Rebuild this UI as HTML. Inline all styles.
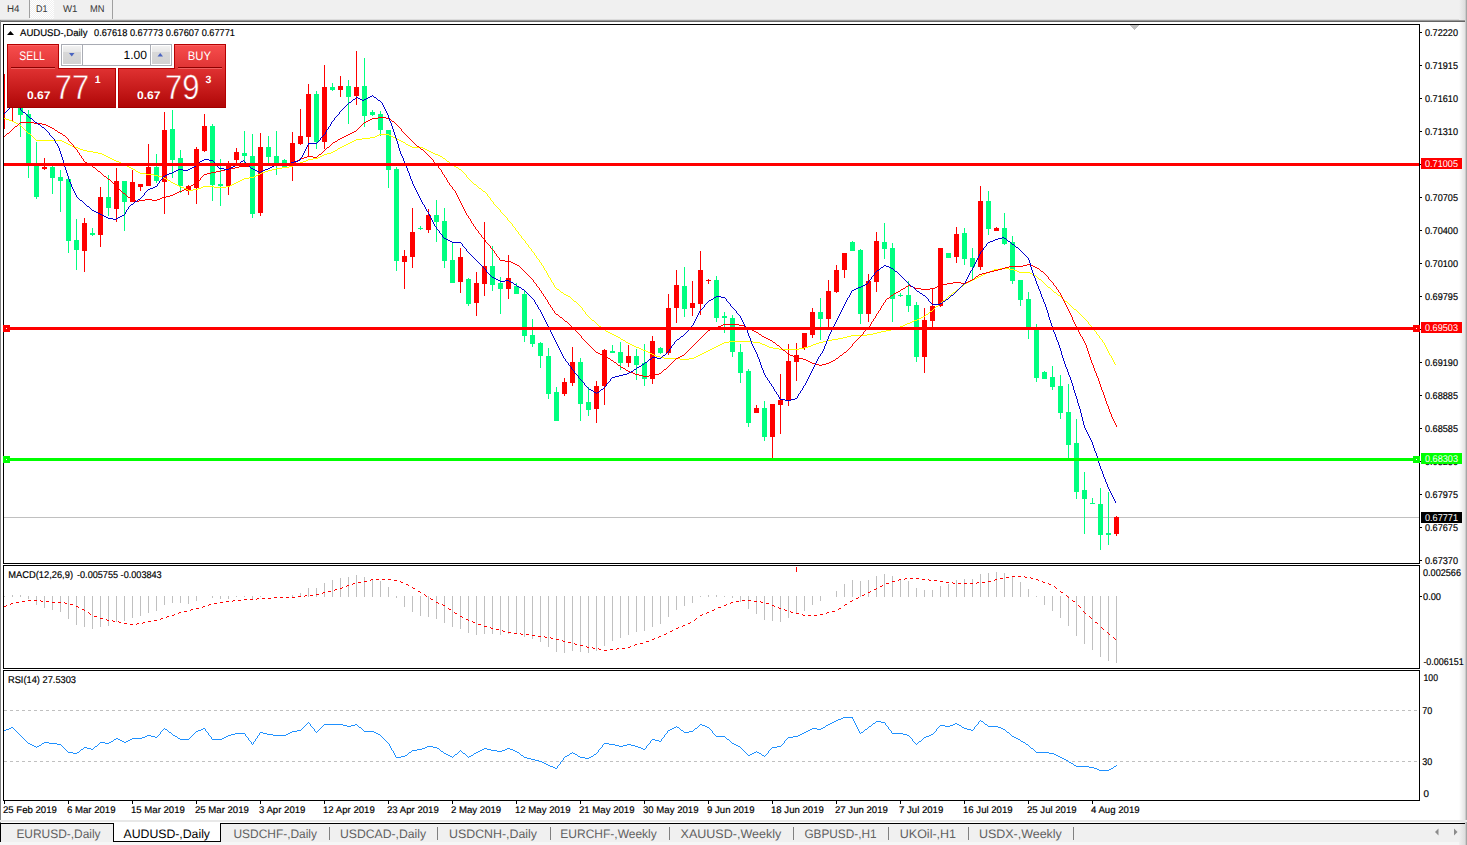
<!DOCTYPE html>
<html><head><meta charset="utf-8"><title>AUDUSD-,Daily</title>
<style>html,body{margin:0;padding:0;background:#fff}body{width:1467px;height:845px;overflow:hidden}svg{display:block}text{font-family:"Liberation Sans",sans-serif;white-space:pre;text-rendering:geometricPrecision}</style></head>
<body>
<svg width="1467" height="845" viewBox="0 0 1467 845">
<defs><linearGradient id="gs" x1="0" y1="0" x2="0" y2="1"><stop offset="0" stop-color="#f84e4e"/><stop offset="1" stop-color="#e03434"/></linearGradient><linearGradient id="gl" x1="0" y1="0" x2="0" y2="1"><stop offset="0" stop-color="#e03232"/><stop offset="0.5" stop-color="#c81c1c"/><stop offset="1" stop-color="#ae0606"/></linearGradient><linearGradient id="gb" x1="0" y1="0" x2="0" y2="1"><stop offset="0" stop-color="#f2f2f2"/><stop offset="0.33" stop-color="#e6e6e6"/><stop offset="0.33" stop-color="#d9d9d9"/><stop offset="1" stop-color="#d2d2d2"/></linearGradient><linearGradient id="gr" x1="0" y1="0" x2="1" y2="0"><stop offset="0" stop-color="#ffffff"/><stop offset="1" stop-color="#e4e4e4"/></linearGradient><linearGradient id="gr2" x1="0" y1="0" x2="1" y2="0"><stop offset="0" stop-color="#f0f0f0"/><stop offset="1" stop-color="#dedede"/></linearGradient><linearGradient id="gl2" gradientUnits="userSpaceOnUse" x1="0" y1="68" x2="0" y2="108"><stop offset="0" stop-color="#e03232"/><stop offset="0.5" stop-color="#c81c1c"/><stop offset="1" stop-color="#ae0606"/></linearGradient><pattern id="dots" width="2" height="2" patternUnits="userSpaceOnUse"><rect width="2" height="2" fill="#f0f0f0"/><rect width="1" height="1" fill="#fff"/><rect x="1" y="1" width="1" height="1" fill="#fff"/></pattern></defs>
<rect x="0" y="0" width="1467" height="845" fill="#fff"/>
<rect x="0" y="0" width="1467" height="20" fill="#f0f0f0"/>
<rect x="30" y="0" width="24" height="19" fill="url(#dots)"/>
<rect x="29" y="0" width="1" height="18" fill="#a0a0a0"/>
<rect x="112" y="0" width="1" height="20" fill="#a0a0a0"/>
<text x="7" y="12" font-size="9.8" fill="#383838" textLength="12.5" lengthAdjust="spacingAndGlyphs">H4</text>
<text x="36" y="12" font-size="9.8" fill="#383838" textLength="11.5" lengthAdjust="spacingAndGlyphs">D1</text>
<text x="63" y="12" font-size="9.8" fill="#383838" textLength="14.5" lengthAdjust="spacingAndGlyphs">W1</text>
<text x="90" y="12" font-size="9.8" fill="#383838" textLength="14.5" lengthAdjust="spacingAndGlyphs">MN</text>
<rect x="0" y="19" width="1465" height="1" fill="#dcdcdc"/>
<rect x="0" y="20" width="1465" height="1" fill="#9a9a9a"/>
<rect x="0" y="21" width="1465" height="1" fill="#646464"/>
<rect x="0" y="20" width="1" height="803" fill="#808080"/>
<rect x="1459" y="22" width="6" height="801" fill="url(#gr)"/>
<rect x="1459" y="0" width="6" height="20" fill="url(#gr2)"/>
<rect x="1465" y="0" width="1" height="823" fill="#cccccc"/>
<rect x="1466" y="0" width="1" height="823" fill="#a6a6a6"/>
<g shape-rendering="crispEdges">
<rect x="4" y="517" width="1415" height="1" fill="#c0c0c0"/>
<rect x="1130" y="25" width="9" height="1" fill="#c0c0c0"/>
<rect x="1131" y="26" width="7" height="1" fill="#c0c0c0"/>
<rect x="1132" y="27" width="5" height="1" fill="#c0c0c0"/>
<rect x="1133" y="28" width="3" height="1" fill="#c0c0c0"/>
<rect x="1134" y="29" width="1" height="1" fill="#c0c0c0"/>
<rect x="4" y="74" width="1" height="55" fill="#ff0000"/>
<rect x="12" y="100" width="1" height="21" fill="#ff0000"/>
<rect x="10" y="104" width="5" height="4" fill="#ff0000"/>
<rect x="20" y="100" width="1" height="37" fill="#00ff80"/>
<rect x="18" y="104" width="5" height="11" fill="#00ff80"/>
<rect x="28" y="110" width="1" height="68" fill="#00ff80"/>
<rect x="26" y="114" width="5" height="50" fill="#00ff80"/>
<rect x="36" y="142" width="1" height="57" fill="#00ff80"/>
<rect x="34" y="166" width="5" height="31" fill="#00ff80"/>
<rect x="44" y="158" width="1" height="12" fill="#ff0000"/>
<rect x="42" y="167" width="5" height="2" fill="#ff0000"/>
<rect x="52" y="166" width="1" height="28" fill="#00ff80"/>
<rect x="50" y="167" width="5" height="11" fill="#00ff80"/>
<rect x="60" y="170" width="1" height="42" fill="#00ff80"/>
<rect x="58" y="177" width="5" height="4" fill="#00ff80"/>
<rect x="68" y="179" width="1" height="74" fill="#00ff80"/>
<rect x="66" y="179" width="5" height="62" fill="#00ff80"/>
<rect x="76" y="219" width="1" height="51" fill="#00ff80"/>
<rect x="74" y="240" width="5" height="10" fill="#00ff80"/>
<rect x="84" y="218" width="1" height="54" fill="#ff0000"/>
<rect x="82" y="223" width="5" height="28" fill="#ff0000"/>
<rect x="92" y="228" width="1" height="8" fill="#00ff80"/>
<rect x="90" y="233" width="5" height="2" fill="#00ff80"/>
<rect x="100" y="187" width="1" height="60" fill="#ff0000"/>
<rect x="98" y="197" width="5" height="38" fill="#ff0000"/>
<rect x="108" y="175" width="1" height="41" fill="#00ff80"/>
<rect x="106" y="197" width="5" height="11" fill="#00ff80"/>
<rect x="116" y="168" width="1" height="54" fill="#ff0000"/>
<rect x="114" y="181" width="5" height="28" fill="#ff0000"/>
<rect x="124" y="181" width="1" height="50" fill="#00ff80"/>
<rect x="122" y="181" width="5" height="21" fill="#00ff80"/>
<rect x="132" y="170" width="1" height="32" fill="#ff0000"/>
<rect x="130" y="182" width="5" height="20" fill="#ff0000"/>
<rect x="140" y="184" width="1" height="7" fill="#ff0000"/>
<rect x="138" y="184" width="5" height="3" fill="#ff0000"/>
<rect x="148" y="144" width="1" height="42" fill="#ff0000"/>
<rect x="146" y="167" width="5" height="19" fill="#ff0000"/>
<rect x="156" y="154" width="1" height="29" fill="#00ff80"/>
<rect x="154" y="167" width="5" height="14" fill="#00ff80"/>
<rect x="164" y="112" width="1" height="102" fill="#ff0000"/>
<rect x="162" y="130" width="5" height="52" fill="#ff0000"/>
<rect x="172" y="110" width="1" height="68" fill="#00ff80"/>
<rect x="170" y="129" width="5" height="31" fill="#00ff80"/>
<rect x="180" y="150" width="1" height="43" fill="#00ff80"/>
<rect x="178" y="158" width="5" height="28" fill="#00ff80"/>
<rect x="188" y="185" width="1" height="10" fill="#ff0000"/>
<rect x="186" y="186" width="5" height="5" fill="#ff0000"/>
<rect x="196" y="147" width="1" height="57" fill="#ff0000"/>
<rect x="194" y="149" width="5" height="39" fill="#ff0000"/>
<rect x="204" y="114" width="1" height="38" fill="#ff0000"/>
<rect x="202" y="126" width="5" height="25" fill="#ff0000"/>
<rect x="212" y="124" width="1" height="77" fill="#00ff80"/>
<rect x="210" y="126" width="5" height="59" fill="#00ff80"/>
<rect x="220" y="159" width="1" height="47" fill="#00ff80"/>
<rect x="218" y="184" width="5" height="2" fill="#00ff80"/>
<rect x="228" y="161" width="1" height="34" fill="#ff0000"/>
<rect x="226" y="164" width="5" height="22" fill="#ff0000"/>
<rect x="236" y="148" width="1" height="16" fill="#ff0000"/>
<rect x="234" y="152" width="5" height="8" fill="#ff0000"/>
<rect x="244" y="131" width="1" height="33" fill="#00ff80"/>
<rect x="242" y="153" width="5" height="3" fill="#00ff80"/>
<rect x="252" y="134" width="1" height="84" fill="#00ff80"/>
<rect x="250" y="156" width="5" height="58" fill="#00ff80"/>
<rect x="260" y="133" width="1" height="83" fill="#ff0000"/>
<rect x="258" y="147" width="5" height="66" fill="#ff0000"/>
<rect x="268" y="136" width="1" height="28" fill="#00ff80"/>
<rect x="266" y="147" width="5" height="10" fill="#00ff80"/>
<rect x="276" y="131" width="1" height="44" fill="#00ff80"/>
<rect x="274" y="156" width="5" height="9" fill="#00ff80"/>
<rect x="284" y="159" width="1" height="9" fill="#00ff80"/>
<rect x="282" y="160" width="5" height="8" fill="#00ff80"/>
<rect x="292" y="132" width="1" height="49" fill="#ff0000"/>
<rect x="290" y="143" width="5" height="23" fill="#ff0000"/>
<rect x="300" y="109" width="1" height="36" fill="#ff0000"/>
<rect x="298" y="136" width="5" height="8" fill="#ff0000"/>
<rect x="308" y="84" width="1" height="72" fill="#ff0000"/>
<rect x="306" y="94" width="5" height="43" fill="#ff0000"/>
<rect x="316" y="91" width="1" height="58" fill="#00ff80"/>
<rect x="314" y="94" width="5" height="48" fill="#00ff80"/>
<rect x="324" y="65" width="1" height="84" fill="#ff0000"/>
<rect x="322" y="87" width="5" height="55" fill="#ff0000"/>
<rect x="332" y="83" width="1" height="8" fill="#00ff80"/>
<rect x="330" y="87" width="5" height="3" fill="#00ff80"/>
<rect x="340" y="76" width="1" height="21" fill="#ff0000"/>
<rect x="338" y="86" width="5" height="4" fill="#ff0000"/>
<rect x="348" y="80" width="1" height="44" fill="#00ff80"/>
<rect x="346" y="86" width="5" height="11" fill="#00ff80"/>
<rect x="356" y="51" width="1" height="54" fill="#ff0000"/>
<rect x="354" y="87" width="5" height="9" fill="#ff0000"/>
<rect x="364" y="58" width="1" height="69" fill="#00ff80"/>
<rect x="362" y="86" width="5" height="30" fill="#00ff80"/>
<rect x="372" y="110" width="1" height="6" fill="#00ff80"/>
<rect x="370" y="112" width="5" height="3" fill="#00ff80"/>
<rect x="380" y="111" width="1" height="25" fill="#00ff80"/>
<rect x="378" y="114" width="5" height="16" fill="#00ff80"/>
<rect x="388" y="130" width="1" height="58" fill="#00ff80"/>
<rect x="386" y="130" width="5" height="40" fill="#00ff80"/>
<rect x="396" y="167" width="1" height="104" fill="#00ff80"/>
<rect x="394" y="169" width="5" height="92" fill="#00ff80"/>
<rect x="404" y="250" width="1" height="39" fill="#ff0000"/>
<rect x="402" y="256" width="5" height="6" fill="#ff0000"/>
<rect x="412" y="208" width="1" height="60" fill="#ff0000"/>
<rect x="410" y="232" width="5" height="25" fill="#ff0000"/>
<rect x="420" y="226" width="1" height="4" fill="#00ff80"/>
<rect x="418" y="228" width="5" height="1" fill="#00ff80"/>
<rect x="428" y="209" width="1" height="24" fill="#ff0000"/>
<rect x="426" y="215" width="5" height="15" fill="#ff0000"/>
<rect x="436" y="200" width="1" height="42" fill="#00ff80"/>
<rect x="434" y="215" width="5" height="7" fill="#00ff80"/>
<rect x="444" y="208" width="1" height="60" fill="#00ff80"/>
<rect x="442" y="221" width="5" height="40" fill="#00ff80"/>
<rect x="452" y="243" width="1" height="40" fill="#00ff80"/>
<rect x="450" y="260" width="5" height="23" fill="#00ff80"/>
<rect x="460" y="248" width="1" height="45" fill="#ff0000"/>
<rect x="458" y="257" width="5" height="25" fill="#ff0000"/>
<rect x="468" y="278" width="1" height="28" fill="#00ff80"/>
<rect x="466" y="279" width="5" height="25" fill="#00ff80"/>
<rect x="476" y="272" width="1" height="44" fill="#ff0000"/>
<rect x="474" y="283" width="5" height="20" fill="#ff0000"/>
<rect x="484" y="222" width="1" height="74" fill="#ff0000"/>
<rect x="482" y="266" width="5" height="18" fill="#ff0000"/>
<rect x="492" y="246" width="1" height="45" fill="#00ff80"/>
<rect x="490" y="266" width="5" height="19" fill="#00ff80"/>
<rect x="500" y="277" width="1" height="37" fill="#00ff80"/>
<rect x="498" y="283" width="5" height="6" fill="#00ff80"/>
<rect x="508" y="255" width="1" height="44" fill="#ff0000"/>
<rect x="506" y="278" width="5" height="11" fill="#ff0000"/>
<rect x="516" y="283" width="1" height="11" fill="#00ff80"/>
<rect x="514" y="286" width="5" height="8" fill="#00ff80"/>
<rect x="524" y="291" width="1" height="51" fill="#00ff80"/>
<rect x="522" y="294" width="5" height="42" fill="#00ff80"/>
<rect x="532" y="319" width="1" height="28" fill="#00ff80"/>
<rect x="530" y="335" width="5" height="9" fill="#00ff80"/>
<rect x="540" y="342" width="1" height="26" fill="#00ff80"/>
<rect x="538" y="343" width="5" height="13" fill="#00ff80"/>
<rect x="548" y="348" width="1" height="51" fill="#00ff80"/>
<rect x="546" y="356" width="5" height="38" fill="#00ff80"/>
<rect x="556" y="387" width="1" height="34" fill="#00ff80"/>
<rect x="554" y="392" width="5" height="29" fill="#00ff80"/>
<rect x="564" y="378" width="1" height="18" fill="#ff0000"/>
<rect x="562" y="382" width="5" height="12" fill="#ff0000"/>
<rect x="572" y="347" width="1" height="39" fill="#ff0000"/>
<rect x="570" y="362" width="5" height="21" fill="#ff0000"/>
<rect x="580" y="358" width="1" height="63" fill="#00ff80"/>
<rect x="578" y="362" width="5" height="42" fill="#00ff80"/>
<rect x="588" y="387" width="1" height="29" fill="#00ff80"/>
<rect x="586" y="402" width="5" height="8" fill="#00ff80"/>
<rect x="596" y="381" width="1" height="42" fill="#ff0000"/>
<rect x="594" y="386" width="5" height="23" fill="#ff0000"/>
<rect x="604" y="349" width="1" height="56" fill="#ff0000"/>
<rect x="602" y="350" width="5" height="36" fill="#ff0000"/>
<rect x="612" y="345" width="1" height="8" fill="#00ff80"/>
<rect x="610" y="351" width="5" height="2" fill="#00ff80"/>
<rect x="620" y="342" width="1" height="28" fill="#00ff80"/>
<rect x="618" y="352" width="5" height="11" fill="#00ff80"/>
<rect x="628" y="345" width="1" height="22" fill="#ff0000"/>
<rect x="626" y="356" width="5" height="7" fill="#ff0000"/>
<rect x="636" y="349" width="1" height="31" fill="#00ff80"/>
<rect x="634" y="356" width="5" height="9" fill="#00ff80"/>
<rect x="644" y="344" width="1" height="42" fill="#00ff80"/>
<rect x="642" y="363" width="5" height="16" fill="#00ff80"/>
<rect x="652" y="336" width="1" height="48" fill="#ff0000"/>
<rect x="650" y="341" width="5" height="38" fill="#ff0000"/>
<rect x="660" y="347" width="1" height="7" fill="#00ff80"/>
<rect x="658" y="348" width="5" height="5" fill="#00ff80"/>
<rect x="668" y="294" width="1" height="61" fill="#ff0000"/>
<rect x="666" y="308" width="5" height="45" fill="#ff0000"/>
<rect x="676" y="270" width="1" height="53" fill="#ff0000"/>
<rect x="674" y="285" width="5" height="23" fill="#ff0000"/>
<rect x="684" y="267" width="1" height="50" fill="#00ff80"/>
<rect x="682" y="286" width="5" height="23" fill="#00ff80"/>
<rect x="692" y="281" width="1" height="35" fill="#ff0000"/>
<rect x="690" y="303" width="5" height="5" fill="#ff0000"/>
<rect x="700" y="251" width="1" height="64" fill="#ff0000"/>
<rect x="698" y="270" width="5" height="34" fill="#ff0000"/>
<rect x="708" y="279" width="1" height="5" fill="#ff0000"/>
<rect x="706" y="280" width="5" height="1" fill="#ff0000"/>
<rect x="716" y="276" width="1" height="46" fill="#00ff80"/>
<rect x="714" y="280" width="5" height="38" fill="#00ff80"/>
<rect x="724" y="312" width="1" height="21" fill="#00ff80"/>
<rect x="722" y="316" width="5" height="2" fill="#00ff80"/>
<rect x="732" y="315" width="1" height="42" fill="#00ff80"/>
<rect x="730" y="318" width="5" height="34" fill="#00ff80"/>
<rect x="740" y="344" width="1" height="39" fill="#00ff80"/>
<rect x="738" y="352" width="5" height="21" fill="#00ff80"/>
<rect x="748" y="369" width="1" height="58" fill="#00ff80"/>
<rect x="746" y="371" width="5" height="52" fill="#00ff80"/>
<rect x="756" y="405" width="1" height="8" fill="#ff0000"/>
<rect x="754" y="408" width="5" height="5" fill="#ff0000"/>
<rect x="764" y="401" width="1" height="40" fill="#00ff80"/>
<rect x="762" y="408" width="5" height="29" fill="#00ff80"/>
<rect x="772" y="404" width="1" height="55" fill="#ff0000"/>
<rect x="770" y="404" width="5" height="33" fill="#ff0000"/>
<rect x="780" y="374" width="1" height="60" fill="#ff0000"/>
<rect x="778" y="400" width="5" height="5" fill="#ff0000"/>
<rect x="788" y="344" width="1" height="62" fill="#ff0000"/>
<rect x="786" y="361" width="5" height="39" fill="#ff0000"/>
<rect x="796" y="343" width="1" height="38" fill="#ff0000"/>
<rect x="794" y="355" width="5" height="7" fill="#ff0000"/>
<rect x="804" y="333" width="1" height="17" fill="#ff0000"/>
<rect x="802" y="333" width="5" height="15" fill="#ff0000"/>
<rect x="812" y="308" width="1" height="30" fill="#ff0000"/>
<rect x="810" y="312" width="5" height="23" fill="#ff0000"/>
<rect x="820" y="298" width="1" height="42" fill="#00ff80"/>
<rect x="818" y="312" width="5" height="7" fill="#00ff80"/>
<rect x="828" y="280" width="1" height="48" fill="#ff0000"/>
<rect x="826" y="291" width="5" height="28" fill="#ff0000"/>
<rect x="836" y="265" width="1" height="28" fill="#ff0000"/>
<rect x="834" y="270" width="5" height="22" fill="#ff0000"/>
<rect x="844" y="253" width="1" height="25" fill="#ff0000"/>
<rect x="842" y="253" width="5" height="17" fill="#ff0000"/>
<rect x="852" y="241" width="1" height="10" fill="#00ff80"/>
<rect x="850" y="242" width="5" height="9" fill="#00ff80"/>
<rect x="860" y="249" width="1" height="75" fill="#00ff80"/>
<rect x="858" y="250" width="5" height="64" fill="#00ff80"/>
<rect x="868" y="274" width="1" height="48" fill="#ff0000"/>
<rect x="866" y="281" width="5" height="33" fill="#ff0000"/>
<rect x="876" y="232" width="1" height="60" fill="#ff0000"/>
<rect x="874" y="241" width="5" height="41" fill="#ff0000"/>
<rect x="884" y="223" width="1" height="36" fill="#00ff80"/>
<rect x="882" y="242" width="5" height="7" fill="#00ff80"/>
<rect x="892" y="243" width="1" height="79" fill="#00ff80"/>
<rect x="890" y="248" width="5" height="51" fill="#00ff80"/>
<rect x="900" y="293" width="1" height="4" fill="#00ff80"/>
<rect x="898" y="295" width="5" height="1" fill="#00ff80"/>
<rect x="908" y="281" width="1" height="31" fill="#00ff80"/>
<rect x="906" y="295" width="5" height="11" fill="#00ff80"/>
<rect x="916" y="302" width="1" height="60" fill="#00ff80"/>
<rect x="914" y="305" width="5" height="52" fill="#00ff80"/>
<rect x="924" y="308" width="1" height="65" fill="#ff0000"/>
<rect x="922" y="320" width="5" height="37" fill="#ff0000"/>
<rect x="932" y="288" width="1" height="39" fill="#ff0000"/>
<rect x="930" y="306" width="5" height="15" fill="#ff0000"/>
<rect x="940" y="248" width="1" height="59" fill="#ff0000"/>
<rect x="938" y="248" width="5" height="58" fill="#ff0000"/>
<rect x="948" y="253" width="1" height="5" fill="#00ff80"/>
<rect x="946" y="253" width="5" height="5" fill="#00ff80"/>
<rect x="956" y="227" width="1" height="36" fill="#ff0000"/>
<rect x="954" y="234" width="5" height="23" fill="#ff0000"/>
<rect x="964" y="228" width="1" height="37" fill="#00ff80"/>
<rect x="962" y="233" width="5" height="26" fill="#00ff80"/>
<rect x="972" y="248" width="1" height="31" fill="#00ff80"/>
<rect x="970" y="258" width="5" height="9" fill="#00ff80"/>
<rect x="980" y="186" width="1" height="84" fill="#ff0000"/>
<rect x="978" y="201" width="5" height="66" fill="#ff0000"/>
<rect x="988" y="191" width="1" height="44" fill="#00ff80"/>
<rect x="986" y="201" width="5" height="28" fill="#00ff80"/>
<rect x="996" y="227" width="1" height="4" fill="#ff0000"/>
<rect x="994" y="228" width="5" height="3" fill="#ff0000"/>
<rect x="1004" y="213" width="1" height="32" fill="#00ff80"/>
<rect x="1002" y="228" width="5" height="16" fill="#00ff80"/>
<rect x="1012" y="236" width="1" height="48" fill="#00ff80"/>
<rect x="1010" y="242" width="5" height="39" fill="#00ff80"/>
<rect x="1020" y="280" width="1" height="26" fill="#00ff80"/>
<rect x="1018" y="280" width="5" height="20" fill="#00ff80"/>
<rect x="1028" y="292" width="1" height="47" fill="#00ff80"/>
<rect x="1026" y="299" width="5" height="29" fill="#00ff80"/>
<rect x="1036" y="324" width="1" height="58" fill="#00ff80"/>
<rect x="1034" y="328" width="5" height="50" fill="#00ff80"/>
<rect x="1044" y="371" width="1" height="8" fill="#00ff80"/>
<rect x="1042" y="372" width="5" height="7" fill="#00ff80"/>
<rect x="1052" y="366" width="1" height="24" fill="#00ff80"/>
<rect x="1050" y="377" width="5" height="10" fill="#00ff80"/>
<rect x="1060" y="375" width="1" height="44" fill="#00ff80"/>
<rect x="1058" y="386" width="5" height="27" fill="#00ff80"/>
<rect x="1068" y="384" width="1" height="76" fill="#00ff80"/>
<rect x="1066" y="412" width="5" height="33" fill="#00ff80"/>
<rect x="1076" y="419" width="1" height="80" fill="#00ff80"/>
<rect x="1074" y="443" width="5" height="49" fill="#00ff80"/>
<rect x="1084" y="472" width="1" height="62" fill="#00ff80"/>
<rect x="1082" y="490" width="5" height="9" fill="#00ff80"/>
<rect x="1092" y="498" width="1" height="6" fill="#00ff80"/>
<rect x="1090" y="503" width="5" height="1" fill="#00ff80"/>
<rect x="1100" y="488" width="1" height="62" fill="#00ff80"/>
<rect x="1098" y="504" width="5" height="31" fill="#00ff80"/>
<rect x="1108" y="492" width="1" height="53" fill="#00ff80"/>
<rect x="1106" y="533" width="5" height="2" fill="#00ff80"/>
<rect x="1116" y="516" width="1" height="20" fill="#ff0000"/>
<rect x="1114" y="517" width="5" height="17" fill="#ff0000"/>
</g>
<path d="M4 118h2v1h-2zM6 119h3v1h-3zM9 120h3v1h-3zM12 121h2v1h-2zM14 122h2v1h-2zM16 123h2v1h-2zM19 125h2v1h-2zM28 133h2v1h-2zM379 134h10v1h-10zM377 135h2v1h-2zM389 135h2v1h-2zM375 136h2v1h-2zM391 136h2v1h-2zM370 137h5v1h-5zM393 137h2v1h-2zM362 138h8v1h-8zM395 138h2v1h-2zM356 139h6v1h-6zM397 139h2v1h-2zM36 140h26v1h-26zM354 140h2v1h-2zM399 140h2v1h-2zM62 141h2v1h-2zM352 141h2v1h-2zM401 141h2v1h-2zM64 142h2v1h-2zM350 142h2v1h-2zM403 142h2v1h-2zM66 143h2v1h-2zM348 143h2v1h-2zM68 144h2v1h-2zM346 144h2v1h-2zM406 144h2v1h-2zM70 145h2v1h-2zM344 145h2v1h-2zM408 145h2v1h-2zM72 146h3v1h-3zM342 146h2v1h-2zM410 146h2v1h-2zM75 147h3v1h-3zM340 147h2v1h-2zM412 147h11v1h-11zM78 148h2v1h-2zM338 148h2v1h-2zM423 148h2v1h-2zM80 149h3v1h-3zM425 149h2v1h-2zM83 150h4v1h-4zM335 150h2v1h-2zM427 150h2v1h-2zM87 151h6v1h-6zM333 151h2v1h-2zM429 151h2v1h-2zM93 152h5v1h-5zM331 152h2v1h-2zM431 152h2v1h-2zM98 153h4v1h-4zM327 153h4v1h-4zM433 153h2v1h-2zM102 154h2v1h-2zM324 154h3v1h-3zM435 154h3v1h-3zM104 155h2v1h-2zM322 155h2v1h-2zM438 155h2v1h-2zM106 156h2v1h-2zM320 156h2v1h-2zM440 156h2v1h-2zM108 157h2v1h-2zM318 157h2v1h-2zM110 158h2v1h-2zM313 158h5v1h-5zM443 158h2v1h-2zM112 159h2v1h-2zM308 159h5v1h-5zM114 160h2v1h-2zM306 160h2v1h-2zM116 161h3v1h-3zM303 161h3v1h-3zM447 161h2v1h-2zM119 162h2v1h-2zM300 162h3v1h-3zM121 163h2v1h-2zM298 163h2v1h-2zM123 164h2v1h-2zM296 164h2v1h-2zM451 164h2v1h-2zM125 165h2v1h-2zM293 165h3v1h-3zM127 166h2v1h-2zM289 166h4v1h-4zM454 166h2v1h-2zM129 167h2v1h-2zM282 167h7v1h-7zM456 167h2v1h-2zM131 168h2v1h-2zM276 168h6v1h-6zM133 169h2v1h-2zM272 169h4v1h-4zM459 169h2v1h-2zM268 170h4v1h-4zM136 171h2v1h-2zM265 171h3v1h-3zM138 172h2v1h-2zM262 172h3v1h-3zM140 173h6v1h-6zM260 173h2v1h-2zM146 174h8v1h-8zM258 174h2v1h-2zM154 175h4v1h-4zM256 175h2v1h-2zM158 176h4v1h-4zM254 176h2v1h-2zM162 177h2v1h-2zM249 177h5v1h-5zM164 178h2v1h-2zM244 178h5v1h-5zM166 179h2v1h-2zM242 179h2v1h-2zM168 180h2v1h-2zM240 180h2v1h-2zM238 181h2v1h-2zM171 182h2v1h-2zM236 182h2v1h-2zM173 183h2v1h-2zM234 183h2v1h-2zM175 184h2v1h-2zM232 184h2v1h-2zM474 184h2v1h-2zM177 185h2v1h-2zM230 185h2v1h-2zM179 186h2v1h-2zM203 186h11v1h-11zM226 186h4v1h-4zM181 187h3v1h-3zM201 187h2v1h-2zM214 187h12v1h-12zM184 188h2v1h-2zM198 188h3v1h-3zM479 188h2v1h-2zM186 189h2v1h-2zM193 189h5v1h-5zM188 190h5v1h-5zM483 191h2v1h-2zM1000 268h9v1h-9zM994 269h6v1h-6zM1009 269h5v1h-5zM992 270h2v1h-2zM1014 270h3v1h-3zM989 271h3v1h-3zM1017 271h2v1h-2zM987 272h2v1h-2zM1019 272h11v1h-11zM985 273h2v1h-2zM1030 273h2v1h-2zM983 274h2v1h-2zM1032 274h2v1h-2zM981 275h2v1h-2zM1034 275h2v1h-2zM979 276h2v1h-2zM977 277h2v1h-2zM975 278h2v1h-2zM973 279h2v1h-2zM1039 279h2v1h-2zM971 280h2v1h-2zM969 281h2v1h-2zM967 282h2v1h-2zM965 283h2v1h-2zM961 286h2v1h-2zM1048 287h2v1h-2zM557 289h2v1h-2zM957 289h2v1h-2zM561 292h2v1h-2zM953 292h2v1h-2zM1054 292h2v1h-2zM564 294h2v1h-2zM566 295h2v1h-2zM949 295h2v1h-2zM1058 295h2v1h-2zM568 296h2v1h-2zM943 300h2v1h-2zM574 301h2v1h-2zM1065 301h2v1h-2zM936 306h2v1h-2zM1074 309h2v1h-2zM930 311h2v1h-2zM926 314h2v1h-2zM923 316h2v1h-2zM921 317h2v1h-2zM919 318h2v1h-2zM917 319h2v1h-2zM592 320h2v1h-2zM914 320h3v1h-3zM912 321h2v1h-2zM910 322h2v1h-2zM907 323h3v1h-3zM905 324h2v1h-2zM903 325h2v1h-2zM599 326h2v1h-2zM900 326h3v1h-3zM897 327h3v1h-3zM894 328h3v1h-3zM603 329h2v1h-2zM891 329h3v1h-3zM886 330h5v1h-5zM606 331h2v1h-2zM881 331h5v1h-5zM608 332h2v1h-2zM877 332h4v1h-4zM610 333h2v1h-2zM873 333h4v1h-4zM612 334h2v1h-2zM867 334h6v1h-6zM614 335h2v1h-2zM851 335h16v1h-16zM616 336h2v1h-2zM847 336h4v1h-4zM618 337h2v1h-2zM843 337h4v1h-4zM838 338h5v1h-5zM621 339h2v1h-2zM832 339h6v1h-6zM623 340h2v1h-2zM827 340h5v1h-5zM729 341h24v1h-24zM823 341h4v1h-4zM626 342h2v1h-2zM724 342h5v1h-5zM753 342h7v1h-7zM819 342h4v1h-4zM628 343h2v1h-2zM722 343h2v1h-2zM760 343h2v1h-2zM816 343h3v1h-3zM630 344h2v1h-2zM720 344h2v1h-2zM762 344h3v1h-3zM813 344h3v1h-3zM632 345h2v1h-2zM718 345h2v1h-2zM765 345h2v1h-2zM811 345h2v1h-2zM634 346h2v1h-2zM716 346h2v1h-2zM767 346h2v1h-2zM808 346h3v1h-3zM636 347h3v1h-3zM714 347h2v1h-2zM769 347h4v1h-4zM804 347h4v1h-4zM639 348h2v1h-2zM712 348h2v1h-2zM773 348h6v1h-6zM799 348h5v1h-5zM641 349h2v1h-2zM710 349h2v1h-2zM779 349h20v1h-20zM643 350h3v1h-3zM708 350h2v1h-2zM646 351h2v1h-2zM706 351h2v1h-2zM648 352h2v1h-2zM704 352h2v1h-2zM650 353h2v1h-2zM702 353h2v1h-2zM652 354h2v1h-2zM700 354h2v1h-2zM654 355h2v1h-2zM698 355h2v1h-2zM656 356h4v1h-4zM696 356h2v1h-2zM660 357h4v1h-4zM694 357h2v1h-2zM664 358h16v1h-16zM689 358h5v1h-5zM680 359h9v1h-9zM18 124h1v1h-1zM21 126h1v1h-1zM22 127h1v1h-1zM23 128h1v1h-1zM24 129h1v1h-1zM25 130h1v1h-1zM26 131h1v1h-1zM27 132h1v1h-1zM30 134h1v1h-1zM31 135h1v1h-1zM32 136h1v1h-1zM33 137h1v1h-1zM34 138h1v1h-1zM35 139h1v1h-1zM135 170h1v1h-1zM170 181h1v1h-1zM337 149h1v1h-1zM405 143h1v1h-1zM442 157h1v1h-1zM445 159h1v1h-1zM446 160h1v1h-1zM449 162h1v1h-1zM450 163h1v1h-1zM453 165h1v1h-1zM458 168h1v1h-1zM461 170h1v1h-1zM462 171h1v1h-1zM463 172h1v1h-1zM464 173h1v1h-1zM465 174h1v1h-1zM466 175h1v2h-1zM467 177h1v1h-1zM468 178h1v1h-1zM469 179h1v1h-1zM470 180h1v1h-1zM471 181h1v1h-1zM472 182h1v1h-1zM473 183h1v1h-1zM476 185h1v1h-1zM477 186h1v1h-1zM478 187h1v1h-1zM481 189h1v1h-1zM482 190h1v1h-1zM485 192h1v1h-1zM486 193h1v1h-1zM487 194h1v2h-1zM488 196h1v1h-1zM489 197h1v1h-1zM490 198h1v2h-1zM491 200h1v1h-1zM492 201h1v1h-1zM493 202h1v2h-1zM494 204h1v1h-1zM495 205h1v1h-1zM496 206h1v1h-1zM497 207h1v1h-1zM498 208h1v1h-1zM499 209h1v1h-1zM500 210h1v2h-1zM501 212h1v1h-1zM502 213h1v1h-1zM503 214h1v1h-1zM504 215h1v1h-1zM505 216h1v1h-1zM506 217h1v1h-1zM507 218h1v2h-1zM508 220h1v1h-1zM509 221h1v1h-1zM510 222h1v1h-1zM511 223h1v1h-1zM512 224h1v2h-1zM513 226h1v1h-1zM514 227h1v1h-1zM515 228h1v2h-1zM516 230h1v1h-1zM517 231h1v1h-1zM518 232h1v2h-1zM519 234h1v1h-1zM520 235h1v1h-1zM521 236h1v2h-1zM522 238h1v1h-1zM523 239h1v1h-1zM524 240h1v1h-1zM525 241h1v2h-1zM526 243h1v1h-1zM527 244h1v1h-1zM528 245h1v2h-1zM529 247h1v1h-1zM530 248h1v1h-1zM531 249h1v2h-1zM532 251h1v1h-1zM533 252h1v1h-1zM534 253h1v2h-1zM535 255h1v1h-1zM536 256h1v2h-1zM537 258h1v1h-1zM538 259h1v1h-1zM539 260h1v2h-1zM540 262h1v1h-1zM541 263h1v2h-1zM542 265h1v1h-1zM543 266h1v2h-1zM544 268h1v2h-1zM545 270h1v1h-1zM546 271h1v2h-1zM547 273h1v2h-1zM548 275h1v2h-1zM549 277h1v1h-1zM550 278h1v2h-1zM551 280h1v2h-1zM552 282h1v1h-1zM553 283h1v2h-1zM554 285h1v2h-1zM555 287h1v1h-1zM556 288h1v1h-1zM559 290h1v1h-1zM560 291h1v1h-1zM563 293h1v1h-1zM570 297h1v1h-1zM571 298h1v1h-1zM572 299h1v1h-1zM573 300h1v1h-1zM576 302h1v1h-1zM577 303h1v1h-1zM578 304h1v1h-1zM579 305h1v1h-1zM580 306h1v1h-1zM581 307h1v1h-1zM582 308h1v2h-1zM583 310h1v1h-1zM584 311h1v1h-1zM585 312h1v2h-1zM586 314h1v1h-1zM587 315h1v1h-1zM588 316h1v1h-1zM589 317h1v1h-1zM590 318h1v1h-1zM591 319h1v1h-1zM594 321h1v1h-1zM595 322h1v1h-1zM596 323h1v1h-1zM597 324h1v1h-1zM598 325h1v1h-1zM601 327h1v1h-1zM602 328h1v1h-1zM605 330h1v1h-1zM620 338h1v1h-1zM625 341h1v1h-1zM925 315h1v1h-1zM928 313h1v1h-1zM929 312h1v1h-1zM932 310h1v1h-1zM933 309h1v1h-1zM934 308h1v1h-1zM935 307h1v1h-1zM938 305h1v1h-1zM939 304h1v1h-1zM940 303h1v1h-1zM941 302h1v1h-1zM942 301h1v1h-1zM945 299h1v1h-1zM946 298h1v1h-1zM947 297h1v1h-1zM948 296h1v1h-1zM951 294h1v1h-1zM952 293h1v1h-1zM955 291h1v1h-1zM956 290h1v1h-1zM959 288h1v1h-1zM960 287h1v1h-1zM963 285h1v1h-1zM964 284h1v1h-1zM1036 276h1v1h-1zM1037 277h1v1h-1zM1038 278h1v1h-1zM1041 280h1v1h-1zM1042 281h1v1h-1zM1043 282h1v1h-1zM1044 283h1v1h-1zM1045 284h1v1h-1zM1046 285h1v1h-1zM1047 286h1v1h-1zM1050 288h1v1h-1zM1051 289h1v1h-1zM1052 290h1v1h-1zM1053 291h1v1h-1zM1056 293h1v1h-1zM1057 294h1v1h-1zM1060 296h1v1h-1zM1061 297h1v1h-1zM1062 298h1v1h-1zM1063 299h1v1h-1zM1064 300h1v1h-1zM1067 302h1v1h-1zM1068 303h1v1h-1zM1069 304h1v1h-1zM1070 305h1v1h-1zM1071 306h1v1h-1zM1072 307h1v1h-1zM1073 308h1v1h-1zM1076 310h1v1h-1zM1077 311h1v1h-1zM1078 312h1v1h-1zM1079 313h1v1h-1zM1080 314h1v1h-1zM1081 315h1v1h-1zM1082 316h1v1h-1zM1083 317h1v1h-1zM1084 318h1v1h-1zM1085 319h1v1h-1zM1086 320h1v1h-1zM1087 321h1v1h-1zM1088 322h1v2h-1zM1089 324h1v1h-1zM1090 325h1v1h-1zM1091 326h1v1h-1zM1092 327h1v1h-1zM1093 328h1v2h-1zM1094 330h1v1h-1zM1095 331h1v1h-1zM1096 332h1v2h-1zM1097 334h1v1h-1zM1098 335h1v1h-1zM1099 336h1v2h-1zM1100 338h1v1h-1zM1101 339h1v1h-1zM1102 340h1v2h-1zM1103 342h1v1h-1zM1104 343h1v2h-1zM1105 345h1v2h-1zM1106 347h1v2h-1zM1107 349h1v2h-1zM1108 351h1v2h-1zM1109 353h1v2h-1zM1110 355h1v1h-1zM1111 356h1v2h-1zM1112 358h1v2h-1zM1113 360h1v2h-1zM1114 362h1v2h-1zM1115 364h1v1h-1z" fill="#ffff00" shape-rendering="crispEdges"/>
<path d="M378 117h8v1h-8zM372 118h6v1h-6zM386 118h4v1h-4zM370 119h2v1h-2zM368 120h2v1h-2zM366 121h2v1h-2zM392 121h2v1h-2zM20 122h14v1h-14zM364 122h2v1h-2zM34 123h8v1h-8zM42 124h4v1h-4zM46 125h2v1h-2zM15 126h2v1h-2zM48 126h2v1h-2zM50 127h2v1h-2zM52 128h2v1h-2zM55 130h2v1h-2zM354 131h2v1h-2zM58 132h2v1h-2zM352 132h2v1h-2zM7 133h2v1h-2zM60 133h2v1h-2zM350 133h2v1h-2zM348 134h2v1h-2zM63 135h2v1h-2zM346 135h2v1h-2zM344 136h2v1h-2zM342 137h2v1h-2zM340 138h2v1h-2zM338 139h2v1h-2zM335 141h2v1h-2zM333 142h2v1h-2zM417 146h2v1h-2zM327 147h2v1h-2zM421 149h2v1h-2zM319 154h2v1h-2zM307 156h6v1h-6zM304 157h3v1h-3zM313 157h4v1h-4zM301 158h3v1h-3zM299 159h2v1h-2zM297 160h2v1h-2zM85 162h2v1h-2zM294 162h2v1h-2zM290 163h4v1h-4zM88 164h2v1h-2zM278 164h12v1h-12zM90 165h2v1h-2zM249 165h29v1h-29zM239 166h10v1h-10zM93 167h2v1h-2zM235 167h4v1h-4zM230 168h5v1h-5zM225 169h5v1h-5zM221 170h4v1h-4zM98 171h2v1h-2zM216 171h5v1h-5zM211 172h5v1h-5zM207 173h4v1h-4zM204 174h3v1h-3zM104 176h2v1h-2zM108 179h2v1h-2zM195 183h2v1h-2zM193 184h2v1h-2zM191 185h2v1h-2zM189 186h2v1h-2zM186 188h2v1h-2zM184 189h2v1h-2zM182 190h2v1h-2zM179 191h3v1h-3zM177 192h2v1h-2zM123 193h2v1h-2zM175 193h2v1h-2zM173 194h2v1h-2zM170 195h3v1h-3zM166 196h4v1h-4zM128 197h2v1h-2zM162 197h4v1h-4zM130 198h2v1h-2zM160 198h2v1h-2zM132 199h2v1h-2zM145 199h7v1h-7zM157 199h3v1h-3zM134 200h2v1h-2zM139 200h6v1h-6zM152 200h5v1h-5zM136 201h3v1h-3zM500 260h5v1h-5zM505 261h6v1h-6zM511 262h2v1h-2zM513 263h2v1h-2zM515 264h2v1h-2zM1027 264h3v1h-3zM517 265h2v1h-2zM1023 265h4v1h-4zM1030 265h3v1h-3zM1009 266h14v1h-14zM1033 266h2v1h-2zM1005 267h4v1h-4zM1035 267h2v1h-2zM1002 268h3v1h-3zM1037 268h2v1h-2zM998 269h4v1h-4zM994 270h4v1h-4zM990 271h4v1h-4zM1041 271h2v1h-2zM986 272h4v1h-4zM982 273h4v1h-4zM979 274h3v1h-3zM976 276h2v1h-2zM972 279h2v1h-2zM970 280h2v1h-2zM968 281h2v1h-2zM953 282h8v1h-8zM966 282h2v1h-2zM947 283h6v1h-6zM961 283h5v1h-5zM943 284h4v1h-4zM908 285h2v1h-2zM939 285h4v1h-4zM906 286h2v1h-2zM910 286h3v1h-3zM937 286h2v1h-2zM913 287h2v1h-2zM935 287h2v1h-2zM903 288h2v1h-2zM915 288h6v1h-6zM930 288h5v1h-5zM901 289h2v1h-2zM921 289h9v1h-9zM898 291h2v1h-2zM896 292h2v1h-2zM894 293h2v1h-2zM891 295h2v1h-2zM887 298h2v1h-2zM556 314h2v1h-2zM560 317h2v1h-2zM565 321h2v1h-2zM723 324h16v1h-16zM721 325h2v1h-2zM739 325h5v1h-5zM718 326h3v1h-3zM744 326h2v1h-2zM715 327h3v1h-3zM746 327h2v1h-2zM713 328h2v1h-2zM748 328h2v1h-2zM710 329h3v1h-3zM750 329h2v1h-2zM708 330h2v1h-2zM752 330h2v1h-2zM754 331h2v1h-2zM756 332h2v1h-2zM759 334h2v1h-2zM762 336h2v1h-2zM764 337h2v1h-2zM766 338h2v1h-2zM768 339h2v1h-2zM770 340h2v1h-2zM773 342h2v1h-2zM777 345h2v1h-2zM783 350h2v1h-2zM596 352h2v1h-2zM844 352h2v1h-2zM598 353h2v1h-2zM600 354h2v1h-2zM788 354h2v1h-2zM602 355h2v1h-2zM682 355h2v1h-2zM790 355h3v1h-3zM840 355h2v1h-2zM604 356h2v1h-2zM680 356h2v1h-2zM793 356h2v1h-2zM606 357h2v1h-2zM678 357h2v1h-2zM795 357h4v1h-4zM608 358h2v1h-2zM676 358h2v1h-2zM799 358h4v1h-4zM836 358h2v1h-2zM803 359h3v1h-3zM611 360h2v1h-2zM806 360h2v1h-2zM833 360h2v1h-2zM808 361h2v1h-2zM831 361h2v1h-2zM614 362h2v1h-2zM810 362h2v1h-2zM829 362h2v1h-2zM812 363h3v1h-3zM826 363h3v1h-3zM815 364h4v1h-4zM822 364h4v1h-4zM618 365h2v1h-2zM819 365h3v1h-3zM621 367h2v1h-2zM623 368h2v1h-2zM664 369h2v1h-2zM626 370h2v1h-2zM628 371h2v1h-2zM630 372h3v1h-3zM633 373h2v1h-2zM659 373h2v1h-2zM635 374h4v1h-4zM655 374h4v1h-4zM639 375h4v1h-4zM649 375h6v1h-6zM643 376h6v1h-6zM4 136h1v1h-1zM5 135h1v1h-1zM6 134h1v1h-1zM9 132h1v1h-1zM10 131h1v1h-1zM11 130h1v1h-1zM12 129h1v1h-1zM13 128h1v1h-1zM14 127h1v1h-1zM17 125h1v1h-1zM18 124h1v1h-1zM19 123h1v1h-1zM54 129h1v1h-1zM57 131h1v1h-1zM62 134h1v1h-1zM65 136h1v1h-1zM66 137h1v1h-1zM67 138h1v1h-1zM68 139h1v2h-1zM69 141h1v1h-1zM70 142h1v1h-1zM71 143h1v1h-1zM72 144h1v1h-1zM73 145h1v2h-1zM74 147h1v1h-1zM75 148h1v1h-1zM76 149h1v1h-1zM77 150h1v2h-1zM78 152h1v1h-1zM79 153h1v2h-1zM80 155h1v1h-1zM81 156h1v2h-1zM82 158h1v1h-1zM83 159h1v2h-1zM84 161h1v1h-1zM87 163h1v1h-1zM92 166h1v1h-1zM95 168h1v1h-1zM96 169h1v1h-1zM97 170h1v1h-1zM100 172h1v1h-1zM101 173h1v1h-1zM102 174h1v1h-1zM103 175h1v1h-1zM106 177h1v1h-1zM107 178h1v1h-1zM110 180h1v1h-1zM111 181h1v1h-1zM112 182h1v1h-1zM113 183h1v1h-1zM114 184h1v1h-1zM115 185h1v1h-1zM116 186h1v1h-1zM117 187h1v1h-1zM118 188h1v1h-1zM119 189h1v1h-1zM120 190h1v1h-1zM121 191h1v1h-1zM122 192h1v1h-1zM125 194h1v1h-1zM126 195h1v1h-1zM127 196h1v1h-1zM188 187h1v1h-1zM197 182h1v1h-1zM198 181h1v1h-1zM199 180h1v1h-1zM200 178h1v2h-1zM201 177h1v1h-1zM202 176h1v1h-1zM203 175h1v1h-1zM296 161h1v1h-1zM317 156h1v1h-1zM318 155h1v1h-1zM321 153h1v1h-1zM322 152h1v1h-1zM323 151h1v1h-1zM324 150h1v1h-1zM325 149h1v1h-1zM326 148h1v1h-1zM329 146h1v1h-1zM330 145h1v1h-1zM331 144h1v1h-1zM332 143h1v1h-1zM337 140h1v1h-1zM356 130h1v1h-1zM357 129h1v1h-1zM358 128h1v1h-1zM359 127h1v1h-1zM360 126h1v1h-1zM361 125h1v1h-1zM362 124h1v1h-1zM363 123h1v1h-1zM390 119h1v1h-1zM391 120h1v1h-1zM394 122h1v1h-1zM395 123h1v1h-1zM396 124h1v1h-1zM397 125h1v1h-1zM398 126h1v1h-1zM399 127h1v1h-1zM400 128h1v1h-1zM401 129h1v2h-1zM402 131h1v1h-1zM403 132h1v1h-1zM404 133h1v1h-1zM405 134h1v1h-1zM406 135h1v1h-1zM407 136h1v1h-1zM408 137h1v1h-1zM409 138h1v1h-1zM410 139h1v1h-1zM411 140h1v1h-1zM412 141h1v1h-1zM413 142h1v1h-1zM414 143h1v1h-1zM415 144h1v1h-1zM416 145h1v1h-1zM419 147h1v1h-1zM420 148h1v1h-1zM423 150h1v1h-1zM424 151h1v1h-1zM425 152h1v1h-1zM426 153h1v1h-1zM427 154h1v1h-1zM428 155h1v1h-1zM429 156h1v1h-1zM430 157h1v1h-1zM431 158h1v1h-1zM432 159h1v1h-1zM433 160h1v2h-1zM434 162h1v1h-1zM435 163h1v1h-1zM436 164h1v1h-1zM437 165h1v1h-1zM438 166h1v2h-1zM439 168h1v1h-1zM440 169h1v1h-1zM441 170h1v2h-1zM442 172h1v2h-1zM443 174h1v1h-1zM444 175h1v2h-1zM445 177h1v1h-1zM446 178h1v2h-1zM447 180h1v2h-1zM448 182h1v1h-1zM449 183h1v2h-1zM450 185h1v1h-1zM451 186h1v1h-1zM452 187h1v2h-1zM453 189h1v1h-1zM454 190h1v1h-1zM455 191h1v2h-1zM456 193h1v2h-1zM457 195h1v2h-1zM458 197h1v2h-1zM459 199h1v2h-1zM460 201h1v2h-1zM461 203h1v2h-1zM462 205h1v2h-1zM463 207h1v2h-1zM464 209h1v2h-1zM465 211h1v2h-1zM466 213h1v2h-1zM467 215h1v1h-1zM468 216h1v2h-1zM469 218h1v1h-1zM470 219h1v2h-1zM471 221h1v2h-1zM472 223h1v1h-1zM473 224h1v2h-1zM474 226h1v1h-1zM475 227h1v2h-1zM476 229h1v1h-1zM477 230h1v1h-1zM478 231h1v2h-1zM479 233h1v1h-1zM480 234h1v1h-1zM481 235h1v2h-1zM482 237h1v1h-1zM483 238h1v1h-1zM484 239h1v1h-1zM485 240h1v2h-1zM486 242h1v1h-1zM487 243h1v1h-1zM488 244h1v1h-1zM489 245h1v1h-1zM490 246h1v2h-1zM491 248h1v1h-1zM492 249h1v1h-1zM493 250h1v1h-1zM494 251h1v2h-1zM495 253h1v1h-1zM496 254h1v2h-1zM497 256h1v1h-1zM498 257h1v1h-1zM499 258h1v2h-1zM519 266h1v1h-1zM520 267h1v1h-1zM521 268h1v1h-1zM522 269h1v1h-1zM523 270h1v1h-1zM524 271h1v1h-1zM525 272h1v1h-1zM526 273h1v1h-1zM527 274h1v1h-1zM528 275h1v1h-1zM529 276h1v1h-1zM530 277h1v1h-1zM531 278h1v1h-1zM532 279h1v1h-1zM533 280h1v2h-1zM534 282h1v1h-1zM535 283h1v1h-1zM536 284h1v2h-1zM537 286h1v1h-1zM538 287h1v1h-1zM539 288h1v2h-1zM540 290h1v1h-1zM541 291h1v2h-1zM542 293h1v1h-1zM543 294h1v2h-1zM544 296h1v1h-1zM545 297h1v2h-1zM546 299h1v1h-1zM547 300h1v2h-1zM548 302h1v2h-1zM549 304h1v1h-1zM550 305h1v2h-1zM551 307h1v1h-1zM552 308h1v2h-1zM553 310h1v1h-1zM554 311h1v2h-1zM555 313h1v1h-1zM558 315h1v1h-1zM559 316h1v1h-1zM562 318h1v1h-1zM563 319h1v1h-1zM564 320h1v1h-1zM567 322h1v1h-1zM568 323h1v1h-1zM569 324h1v1h-1zM570 325h1v1h-1zM571 326h1v1h-1zM572 327h1v1h-1zM573 328h1v1h-1zM574 329h1v1h-1zM575 330h1v1h-1zM576 331h1v1h-1zM577 332h1v1h-1zM578 333h1v1h-1zM579 334h1v1h-1zM580 335h1v1h-1zM581 336h1v2h-1zM582 338h1v1h-1zM583 339h1v1h-1zM584 340h1v1h-1zM585 341h1v1h-1zM586 342h1v1h-1zM587 343h1v1h-1zM588 344h1v1h-1zM589 345h1v1h-1zM590 346h1v1h-1zM591 347h1v1h-1zM592 348h1v1h-1zM593 349h1v1h-1zM594 350h1v1h-1zM595 351h1v1h-1zM610 359h1v1h-1zM613 361h1v1h-1zM616 363h1v1h-1zM617 364h1v1h-1zM620 366h1v1h-1zM625 369h1v1h-1zM661 372h1v1h-1zM662 371h1v1h-1zM663 370h1v1h-1zM666 368h1v1h-1zM667 367h1v1h-1zM668 366h1v1h-1zM669 365h1v1h-1zM670 364h1v1h-1zM671 363h1v1h-1zM672 362h1v1h-1zM673 361h1v1h-1zM674 360h1v1h-1zM675 359h1v1h-1zM684 354h1v1h-1zM685 353h1v1h-1zM686 352h1v1h-1zM687 351h1v1h-1zM688 350h1v1h-1zM689 349h1v1h-1zM690 348h1v1h-1zM691 347h1v1h-1zM692 346h1v1h-1zM693 345h1v1h-1zM694 344h1v1h-1zM695 343h1v1h-1zM696 342h1v1h-1zM697 341h1v1h-1zM698 340h1v1h-1zM699 339h1v1h-1zM700 338h1v1h-1zM701 337h1v1h-1zM702 336h1v1h-1zM703 335h1v1h-1zM704 334h1v1h-1zM705 333h1v1h-1zM706 332h1v1h-1zM707 331h1v1h-1zM758 333h1v1h-1zM761 335h1v1h-1zM772 341h1v1h-1zM775 343h1v1h-1zM776 344h1v1h-1zM779 346h1v1h-1zM780 347h1v1h-1zM781 348h1v1h-1zM782 349h1v1h-1zM785 351h1v1h-1zM786 352h1v1h-1zM787 353h1v1h-1zM835 359h1v1h-1zM838 357h1v1h-1zM839 356h1v1h-1zM842 354h1v1h-1zM843 353h1v1h-1zM846 351h1v1h-1zM847 350h1v1h-1zM848 349h1v1h-1zM849 348h1v1h-1zM850 347h1v1h-1zM851 346h1v1h-1zM852 344h1v2h-1zM853 343h1v1h-1zM854 342h1v1h-1zM855 341h1v1h-1zM856 340h1v1h-1zM857 339h1v1h-1zM858 338h1v1h-1zM859 337h1v1h-1zM860 336h1v1h-1zM861 335h1v1h-1zM862 334h1v1h-1zM863 332h1v2h-1zM864 331h1v1h-1zM865 330h1v1h-1zM866 329h1v1h-1zM867 328h1v1h-1zM868 327h1v1h-1zM869 326h1v1h-1zM870 324h1v2h-1zM871 322h1v2h-1zM872 321h1v1h-1zM873 319h1v2h-1zM874 318h1v1h-1zM875 316h1v2h-1zM876 314h1v2h-1zM877 313h1v1h-1zM878 311h1v2h-1zM879 310h1v1h-1zM880 308h1v2h-1zM881 306h1v2h-1zM882 305h1v1h-1zM883 303h1v2h-1zM884 302h1v1h-1zM885 300h1v2h-1zM886 299h1v1h-1zM889 297h1v1h-1zM890 296h1v1h-1zM893 294h1v1h-1zM900 290h1v1h-1zM905 287h1v1h-1zM974 278h1v1h-1zM975 277h1v1h-1zM978 275h1v1h-1zM1039 269h1v1h-1zM1040 270h1v1h-1zM1043 272h1v1h-1zM1044 273h1v1h-1zM1045 274h1v1h-1zM1046 275h1v1h-1zM1047 276h1v1h-1zM1048 277h1v2h-1zM1049 279h1v1h-1zM1050 280h1v1h-1zM1051 281h1v1h-1zM1052 282h1v1h-1zM1053 283h1v2h-1zM1054 285h1v1h-1zM1055 286h1v1h-1zM1056 287h1v2h-1zM1057 289h1v1h-1zM1058 290h1v2h-1zM1059 292h1v1h-1zM1060 293h1v2h-1zM1061 295h1v2h-1zM1062 297h1v2h-1zM1063 299h1v2h-1zM1064 301h1v2h-1zM1065 303h1v2h-1zM1066 305h1v2h-1zM1067 307h1v2h-1zM1068 309h1v2h-1zM1069 311h1v2h-1zM1070 313h1v2h-1zM1071 315h1v2h-1zM1072 317h1v3h-1zM1073 320h1v2h-1zM1074 322h1v2h-1zM1075 324h1v2h-1zM1076 326h1v2h-1zM1077 328h1v2h-1zM1078 330h1v2h-1zM1079 332h1v2h-1zM1080 334h1v2h-1zM1081 336h1v1h-1zM1082 337h1v2h-1zM1083 339h1v2h-1zM1084 341h1v2h-1zM1085 343h1v2h-1zM1086 345h1v3h-1zM1087 348h1v3h-1zM1088 351h1v3h-1zM1089 354h1v3h-1zM1090 357h1v3h-1zM1091 360h1v3h-1zM1092 363h1v2h-1zM1093 365h1v3h-1zM1094 368h1v3h-1zM1095 371h1v2h-1zM1096 373h1v3h-1zM1097 376h1v2h-1zM1098 378h1v3h-1zM1099 381h1v3h-1zM1100 384h1v3h-1zM1101 387h1v3h-1zM1102 390h1v2h-1zM1103 392h1v3h-1zM1104 395h1v3h-1zM1105 398h1v3h-1zM1106 401h1v3h-1zM1107 404h1v2h-1zM1108 406h1v3h-1zM1109 409h1v3h-1zM1110 412h1v2h-1zM1111 414h1v3h-1zM1112 417h1v2h-1zM1113 419h1v2h-1zM1114 421h1v2h-1zM1115 423h1v2h-1zM1116 425h1v2h-1z" fill="#ff0000" shape-rendering="crispEdges"/>
<path d="M370 96h2v1h-2zM356 97h2v1h-2zM368 97h2v1h-2zM374 97h2v1h-2zM358 98h2v1h-2zM366 98h2v1h-2zM353 99h2v1h-2zM360 99h2v1h-2zM364 99h2v1h-2zM362 100h2v1h-2zM378 100h2v1h-2zM349 102h2v1h-2zM15 105h2v1h-2zM10 107h2v1h-2zM18 107h2v1h-2zM23 112h2v1h-2zM30 118h2v1h-2zM35 122h2v1h-2zM38 124h2v1h-2zM42 127h2v1h-2zM308 143h9v1h-9zM204 159h5v1h-5zM202 160h2v1h-2zM209 160h4v1h-4zM298 160h2v1h-2zM200 161h2v1h-2zM241 161h2v1h-2zM294 161h4v1h-4zM291 162h3v1h-3zM238 163h2v1h-2zM289 163h2v1h-2zM236 164h2v1h-2zM286 164h3v1h-3zM274 165h12v1h-12zM194 166h2v1h-2zM233 166h2v1h-2zM272 166h2v1h-2zM192 167h2v1h-2zM231 167h2v1h-2zM270 167h2v1h-2zM190 168h2v1h-2zM219 168h5v1h-5zM229 168h2v1h-2zM251 168h2v1h-2zM268 168h2v1h-2zM178 169h5v1h-5zM188 169h2v1h-2zM224 169h5v1h-5zM253 169h2v1h-2zM265 169h3v1h-3zM176 170h2v1h-2zM183 170h5v1h-5zM255 170h2v1h-2zM263 170h2v1h-2zM174 171h2v1h-2zM257 171h2v1h-2zM261 171h2v1h-2zM172 172h2v1h-2zM259 172h2v1h-2zM169 173h3v1h-3zM167 174h2v1h-2zM165 175h2v1h-2zM163 176h2v1h-2zM155 186h2v1h-2zM153 187h2v1h-2zM150 188h3v1h-3zM148 189h2v1h-2zM138 199h2v1h-2zM80 200h2v1h-2zM135 201h2v1h-2zM131 204h2v1h-2zM87 206h2v1h-2zM92 210h2v1h-2zM94 211h2v1h-2zM96 212h2v1h-2zM98 213h2v1h-2zM100 214h2v1h-2zM102 215h2v1h-2zM122 215h2v1h-2zM104 216h2v1h-2zM120 216h2v1h-2zM106 217h2v1h-2zM118 217h2v1h-2zM108 218h5v1h-5zM116 218h2v1h-2zM113 219h3v1h-3zM1002 237h2v1h-2zM444 238h2v1h-2zM998 238h4v1h-4zM1004 238h2v1h-2zM446 239h2v1h-2zM995 239h3v1h-3zM448 240h2v1h-2zM993 240h2v1h-2zM450 241h2v1h-2zM990 241h3v1h-3zM1008 241h2v1h-2zM452 242h9v1h-9zM988 242h2v1h-2zM1012 244h2v1h-2zM1016 247h2v1h-2zM884 265h2v1h-2zM886 266h3v1h-3zM881 267h2v1h-2zM889 267h2v1h-2zM891 268h2v1h-2zM877 270h2v1h-2zM895 271h2v1h-2zM492 277h2v1h-2zM494 278h2v1h-2zM496 279h2v1h-2zM498 280h2v1h-2zM505 280h4v1h-4zM500 281h5v1h-5zM509 281h2v1h-2zM511 282h2v1h-2zM514 284h2v1h-2zM865 284h2v1h-2zM863 285h2v1h-2zM517 286h2v1h-2zM861 286h2v1h-2zM911 286h2v1h-2zM519 287h2v1h-2zM858 287h3v1h-3zM856 288h2v1h-2zM522 289h2v1h-2zM854 289h2v1h-2zM852 290h2v1h-2zM917 291h2v1h-2zM920 293h2v1h-2zM923 295h2v1h-2zM951 295h2v1h-2zM716 296h5v1h-5zM714 297h2v1h-2zM721 297h4v1h-4zM711 299h2v1h-2zM946 299h2v1h-2zM709 300h2v1h-2zM943 301h2v1h-2zM940 303h2v1h-2zM932 304h8v1h-8zM681 336h2v1h-2zM677 339h2v1h-2zM663 355h2v1h-2zM652 357h5v1h-5zM657 358h4v1h-4zM649 359h2v1h-2zM645 362h2v1h-2zM642 364h2v1h-2zM639 366h2v1h-2zM637 367h2v1h-2zM634 369h2v1h-2zM631 371h2v1h-2zM629 372h2v1h-2zM627 373h2v1h-2zM623 374h4v1h-4zM619 375h4v1h-4zM615 376h4v1h-4zM612 377h3v1h-3zM589 389h2v1h-2zM601 389h2v1h-2zM591 390h2v1h-2zM594 392h2v1h-2zM597 392h2v1h-2zM795 398h2v1h-2zM780 399h5v1h-5zM791 399h4v1h-4zM785 400h6v1h-6zM4 113h1v1h-1zM5 112h1v1h-1zM6 111h1v1h-1zM7 110h1v1h-1zM8 109h1v1h-1zM9 108h1v1h-1zM12 106h1v1h-1zM13 105h1v1h-1zM14 104h1v1h-1zM17 106h1v1h-1zM20 108h1v2h-1zM21 110h1v1h-1zM22 111h1v1h-1zM25 113h1v1h-1zM26 114h1v1h-1zM27 115h1v1h-1zM28 116h1v1h-1zM29 117h1v1h-1zM32 119h1v1h-1zM33 120h1v1h-1zM34 121h1v1h-1zM37 123h1v1h-1zM40 125h1v1h-1zM41 126h1v1h-1zM44 128h1v1h-1zM45 129h1v1h-1zM46 130h1v1h-1zM47 131h1v1h-1zM48 132h1v1h-1zM49 133h1v2h-1zM50 135h1v1h-1zM51 136h1v1h-1zM52 137h1v1h-1zM53 138h1v1h-1zM54 139h1v2h-1zM55 141h1v2h-1zM56 143h1v1h-1zM57 144h1v2h-1zM58 146h1v2h-1zM59 148h1v3h-1zM60 151h1v3h-1zM61 154h1v3h-1zM62 157h1v3h-1zM63 160h1v4h-1zM64 164h1v3h-1zM65 167h1v3h-1zM66 170h1v3h-1zM67 173h1v3h-1zM68 176h1v3h-1zM69 179h1v3h-1zM70 182h1v2h-1zM71 184h1v3h-1zM72 187h1v2h-1zM73 189h1v2h-1zM74 191h1v2h-1zM75 193h1v2h-1zM76 195h1v2h-1zM77 197h1v1h-1zM78 198h1v1h-1zM79 199h1v1h-1zM82 201h1v1h-1zM83 202h1v1h-1zM84 203h1v1h-1zM85 204h1v1h-1zM86 205h1v1h-1zM89 207h1v1h-1zM90 208h1v1h-1zM91 209h1v1h-1zM124 214h1v1h-1zM125 212h1v2h-1zM126 210h1v2h-1zM127 209h1v1h-1zM128 207h1v2h-1zM129 206h1v1h-1zM130 205h1v1h-1zM133 203h1v1h-1zM134 202h1v1h-1zM137 200h1v1h-1zM140 198h1v1h-1zM141 197h1v1h-1zM142 196h1v1h-1zM143 195h1v1h-1zM144 193h1v2h-1zM145 192h1v1h-1zM146 191h1v1h-1zM147 190h1v1h-1zM157 184h1v2h-1zM158 183h1v1h-1zM159 181h1v2h-1zM160 180h1v1h-1zM161 179h1v1h-1zM162 177h1v2h-1zM196 165h1v1h-1zM197 164h1v1h-1zM198 163h1v1h-1zM199 162h1v1h-1zM213 161h1v1h-1zM214 162h1v1h-1zM215 163h1v2h-1zM216 165h1v1h-1zM217 166h1v1h-1zM218 167h1v1h-1zM235 165h1v1h-1zM240 162h1v1h-1zM243 160h1v1h-1zM244 161h1v1h-1zM245 162h1v1h-1zM246 163h1v1h-1zM247 164h1v1h-1zM248 165h1v1h-1zM249 166h1v1h-1zM250 167h1v1h-1zM300 158h1v2h-1zM301 157h1v1h-1zM302 155h1v2h-1zM303 153h1v2h-1zM304 151h1v2h-1zM305 149h1v2h-1zM306 147h1v2h-1zM307 145h1v2h-1zM308 144h1v1h-1zM317 142h1v1h-1zM318 141h1v1h-1zM319 140h1v1h-1zM320 138h1v2h-1zM321 137h1v1h-1zM322 136h1v1h-1zM323 135h1v1h-1zM324 134h1v1h-1zM325 132h1v2h-1zM326 130h1v2h-1zM327 129h1v1h-1zM328 127h1v2h-1zM329 126h1v1h-1zM330 124h1v2h-1zM331 122h1v2h-1zM332 121h1v1h-1zM333 120h1v1h-1zM334 118h1v2h-1zM335 117h1v1h-1zM336 116h1v1h-1zM337 115h1v1h-1zM338 114h1v1h-1zM339 112h1v2h-1zM340 111h1v1h-1zM341 110h1v1h-1zM342 109h1v1h-1zM343 108h1v1h-1zM344 107h1v1h-1zM345 106h1v1h-1zM346 105h1v1h-1zM347 104h1v1h-1zM348 103h1v1h-1zM351 101h1v1h-1zM352 100h1v1h-1zM355 98h1v1h-1zM372 95h1v1h-1zM373 96h1v1h-1zM376 98h1v1h-1zM377 99h1v1h-1zM380 101h1v1h-1zM381 102h1v1h-1zM382 103h1v2h-1zM383 105h1v2h-1zM384 107h1v2h-1zM385 109h1v2h-1zM386 111h1v2h-1zM387 113h1v2h-1zM388 115h1v3h-1zM389 118h1v3h-1zM390 121h1v2h-1zM391 123h1v3h-1zM392 126h1v3h-1zM393 129h1v3h-1zM394 132h1v3h-1zM395 135h1v3h-1zM396 138h1v3h-1zM397 141h1v3h-1zM398 144h1v4h-1zM399 148h1v3h-1zM400 151h1v3h-1zM401 154h1v2h-1zM402 156h1v2h-1zM403 158h1v3h-1zM404 161h1v2h-1zM405 163h1v2h-1zM406 165h1v3h-1zM407 168h1v3h-1zM408 171h1v2h-1zM409 173h1v3h-1zM410 176h1v3h-1zM411 179h1v2h-1zM412 181h1v3h-1zM413 184h1v2h-1zM414 186h1v2h-1zM415 188h1v2h-1zM416 190h1v2h-1zM417 192h1v2h-1zM418 194h1v2h-1zM419 196h1v2h-1zM420 198h1v2h-1zM421 200h1v2h-1zM422 202h1v2h-1zM423 204h1v1h-1zM424 205h1v2h-1zM425 207h1v2h-1zM426 209h1v2h-1zM427 211h1v1h-1zM428 212h1v2h-1zM429 214h1v2h-1zM430 216h1v2h-1zM431 218h1v2h-1zM432 220h1v2h-1zM433 222h1v2h-1zM434 224h1v2h-1zM435 226h1v1h-1zM436 227h1v2h-1zM437 229h1v1h-1zM438 230h1v1h-1zM439 231h1v2h-1zM440 233h1v1h-1zM441 234h1v1h-1zM442 235h1v2h-1zM443 237h1v1h-1zM461 243h1v1h-1zM462 244h1v2h-1zM463 246h1v1h-1zM464 247h1v1h-1zM465 248h1v1h-1zM466 249h1v2h-1zM467 251h1v1h-1zM468 252h1v1h-1zM469 253h1v1h-1zM470 254h1v1h-1zM471 255h1v1h-1zM472 256h1v1h-1zM473 257h1v1h-1zM474 258h1v1h-1zM475 259h1v1h-1zM476 260h1v1h-1zM477 261h1v1h-1zM478 262h1v1h-1zM479 263h1v1h-1zM480 264h1v1h-1zM481 265h1v1h-1zM482 266h1v1h-1zM483 267h1v1h-1zM484 268h1v1h-1zM485 269h1v1h-1zM486 270h1v2h-1zM487 272h1v1h-1zM488 273h1v1h-1zM489 274h1v1h-1zM490 275h1v1h-1zM491 276h1v1h-1zM513 283h1v1h-1zM516 285h1v1h-1zM521 288h1v1h-1zM524 290h1v1h-1zM525 291h1v1h-1zM526 292h1v1h-1zM527 293h1v1h-1zM528 294h1v1h-1zM529 295h1v1h-1zM530 296h1v1h-1zM531 297h1v1h-1zM532 298h1v1h-1zM533 299h1v1h-1zM534 300h1v2h-1zM535 302h1v2h-1zM536 304h1v1h-1zM537 305h1v2h-1zM538 307h1v2h-1zM539 309h1v1h-1zM540 310h1v2h-1zM541 312h1v2h-1zM542 314h1v2h-1zM543 316h1v2h-1zM544 318h1v2h-1zM545 320h1v2h-1zM546 322h1v2h-1zM547 324h1v2h-1zM548 326h1v2h-1zM549 328h1v2h-1zM550 330h1v2h-1zM551 332h1v2h-1zM552 334h1v2h-1zM553 336h1v2h-1zM554 338h1v2h-1zM555 340h1v2h-1zM556 342h1v2h-1zM557 344h1v2h-1zM558 346h1v2h-1zM559 348h1v2h-1zM560 350h1v2h-1zM561 352h1v2h-1zM562 354h1v2h-1zM563 356h1v2h-1zM564 358h1v1h-1zM565 359h1v2h-1zM566 361h1v1h-1zM567 362h1v1h-1zM568 363h1v2h-1zM569 365h1v1h-1zM570 366h1v1h-1zM571 367h1v2h-1zM572 369h1v1h-1zM573 370h1v1h-1zM574 371h1v2h-1zM575 373h1v1h-1zM576 374h1v1h-1zM577 375h1v1h-1zM578 376h1v2h-1zM579 378h1v1h-1zM580 379h1v1h-1zM581 380h1v1h-1zM582 381h1v1h-1zM583 382h1v1h-1zM584 383h1v2h-1zM585 385h1v1h-1zM586 386h1v1h-1zM587 387h1v1h-1zM588 388h1v1h-1zM593 391h1v1h-1zM596 393h1v1h-1zM599 391h1v1h-1zM600 390h1v1h-1zM603 388h1v1h-1zM604 387h1v1h-1zM605 386h1v1h-1zM606 384h1v2h-1zM607 383h1v1h-1zM608 382h1v1h-1zM609 381h1v1h-1zM610 379h1v2h-1zM611 378h1v1h-1zM633 370h1v1h-1zM636 368h1v1h-1zM641 365h1v1h-1zM644 363h1v1h-1zM647 361h1v1h-1zM648 360h1v1h-1zM651 358h1v1h-1zM661 357h1v1h-1zM662 356h1v1h-1zM665 354h1v1h-1zM666 353h1v1h-1zM667 352h1v1h-1zM668 351h1v1h-1zM669 349h1v2h-1zM670 348h1v1h-1zM671 346h1v2h-1zM672 345h1v1h-1zM673 344h1v1h-1zM674 342h1v2h-1zM675 341h1v1h-1zM676 340h1v1h-1zM679 338h1v1h-1zM680 337h1v1h-1zM683 335h1v1h-1zM684 334h1v1h-1zM685 333h1v1h-1zM686 332h1v1h-1zM687 331h1v1h-1zM688 329h1v2h-1zM689 328h1v1h-1zM690 327h1v1h-1zM691 326h1v1h-1zM692 325h1v1h-1zM693 323h1v2h-1zM694 321h1v2h-1zM695 319h1v2h-1zM696 317h1v2h-1zM697 315h1v2h-1zM698 313h1v2h-1zM699 311h1v2h-1zM700 310h1v1h-1zM701 309h1v1h-1zM702 308h1v1h-1zM703 307h1v1h-1zM704 305h1v2h-1zM705 304h1v1h-1zM706 303h1v1h-1zM707 302h1v1h-1zM708 301h1v1h-1zM713 298h1v1h-1zM725 298h1v1h-1zM726 299h1v2h-1zM727 301h1v1h-1zM728 302h1v1h-1zM729 303h1v1h-1zM730 304h1v2h-1zM731 306h1v1h-1zM732 307h1v1h-1zM733 308h1v1h-1zM734 309h1v1h-1zM735 310h1v1h-1zM736 311h1v2h-1zM737 313h1v1h-1zM738 314h1v1h-1zM739 315h1v1h-1zM740 316h1v2h-1zM741 318h1v2h-1zM742 320h1v2h-1zM743 322h1v2h-1zM744 324h1v2h-1zM745 326h1v2h-1zM746 328h1v2h-1zM747 330h1v3h-1zM748 333h1v3h-1zM749 336h1v2h-1zM750 338h1v3h-1zM751 341h1v3h-1zM752 344h1v2h-1zM753 346h1v2h-1zM754 348h1v2h-1zM755 350h1v2h-1zM756 352h1v2h-1zM757 354h1v3h-1zM758 357h1v2h-1zM759 359h1v3h-1zM760 362h1v3h-1zM761 365h1v3h-1zM762 368h1v2h-1zM763 370h1v3h-1zM764 373h1v2h-1zM765 375h1v2h-1zM766 377h1v1h-1zM767 378h1v2h-1zM768 380h1v1h-1zM769 381h1v2h-1zM770 383h1v1h-1zM771 384h1v2h-1zM772 386h1v1h-1zM773 387h1v2h-1zM774 389h1v2h-1zM775 391h1v1h-1zM776 392h1v2h-1zM777 394h1v1h-1zM778 395h1v2h-1zM779 397h1v2h-1zM797 396h1v2h-1zM798 394h1v2h-1zM799 393h1v1h-1zM800 391h1v2h-1zM801 390h1v1h-1zM802 388h1v2h-1zM803 386h1v2h-1zM804 385h1v1h-1zM805 383h1v2h-1zM806 381h1v2h-1zM807 379h1v2h-1zM808 377h1v2h-1zM809 375h1v2h-1zM810 373h1v2h-1zM811 371h1v2h-1zM812 369h1v2h-1zM813 367h1v2h-1zM814 365h1v2h-1zM815 363h1v2h-1zM816 361h1v2h-1zM817 359h1v2h-1zM818 357h1v2h-1zM819 356h1v1h-1zM820 354h1v2h-1zM821 353h1v1h-1zM822 351h1v2h-1zM823 349h1v2h-1zM824 346h1v3h-1zM825 344h1v2h-1zM826 341h1v3h-1zM827 339h1v2h-1zM828 336h1v3h-1zM829 334h1v2h-1zM830 332h1v2h-1zM831 330h1v2h-1zM832 328h1v2h-1zM833 326h1v2h-1zM834 324h1v2h-1zM835 322h1v2h-1zM836 320h1v2h-1zM837 318h1v2h-1zM838 316h1v2h-1zM839 314h1v2h-1zM840 312h1v2h-1zM841 310h1v2h-1zM842 308h1v2h-1zM843 306h1v2h-1zM844 304h1v2h-1zM845 302h1v2h-1zM846 300h1v2h-1zM847 298h1v2h-1zM848 297h1v1h-1zM849 295h1v2h-1zM850 293h1v2h-1zM851 291h1v2h-1zM867 283h1v1h-1zM868 281h1v2h-1zM869 280h1v1h-1zM870 279h1v1h-1zM871 277h1v2h-1zM872 276h1v1h-1zM873 275h1v1h-1zM874 273h1v2h-1zM875 272h1v1h-1zM876 271h1v1h-1zM879 269h1v1h-1zM880 268h1v1h-1zM883 266h1v1h-1zM893 269h1v1h-1zM894 270h1v1h-1zM897 272h1v1h-1zM898 273h1v1h-1zM899 274h1v1h-1zM900 275h1v1h-1zM901 276h1v1h-1zM902 277h1v1h-1zM903 278h1v1h-1zM904 279h1v1h-1zM905 280h1v1h-1zM906 281h1v1h-1zM907 282h1v1h-1zM908 283h1v1h-1zM909 284h1v1h-1zM910 285h1v1h-1zM913 287h1v1h-1zM914 288h1v1h-1zM915 289h1v1h-1zM916 290h1v1h-1zM919 292h1v1h-1zM922 294h1v1h-1zM925 296h1v1h-1zM926 297h1v1h-1zM927 298h1v1h-1zM928 299h1v2h-1zM929 301h1v1h-1zM930 302h1v1h-1zM931 303h1v1h-1zM942 302h1v1h-1zM945 300h1v1h-1zM948 298h1v1h-1zM949 297h1v1h-1zM950 296h1v1h-1zM953 294h1v1h-1zM954 293h1v1h-1zM955 292h1v1h-1zM956 291h1v1h-1zM957 290h1v1h-1zM958 289h1v1h-1zM959 288h1v1h-1zM960 287h1v1h-1zM961 286h1v1h-1zM962 285h1v1h-1zM963 284h1v1h-1zM964 283h1v1h-1zM965 281h1v2h-1zM966 279h1v2h-1zM967 277h1v2h-1zM968 275h1v2h-1zM969 273h1v2h-1zM970 271h1v2h-1zM971 270h1v1h-1zM972 268h1v2h-1zM973 266h1v2h-1zM974 264h1v2h-1zM975 262h1v2h-1zM976 260h1v2h-1zM977 258h1v2h-1zM978 256h1v2h-1zM979 254h1v2h-1zM980 252h1v2h-1zM981 251h1v1h-1zM982 250h1v1h-1zM983 248h1v2h-1zM984 247h1v1h-1zM985 246h1v1h-1zM986 244h1v2h-1zM987 243h1v1h-1zM1006 239h1v1h-1zM1007 240h1v1h-1zM1010 242h1v1h-1zM1011 243h1v1h-1zM1014 245h1v1h-1zM1015 246h1v1h-1zM1018 248h1v1h-1zM1019 249h1v1h-1zM1020 250h1v1h-1zM1021 251h1v1h-1zM1022 252h1v1h-1zM1023 253h1v1h-1zM1024 254h1v1h-1zM1025 255h1v1h-1zM1026 256h1v1h-1zM1027 257h1v1h-1zM1028 258h1v2h-1zM1029 260h1v3h-1zM1030 263h1v4h-1zM1031 267h1v3h-1zM1032 270h1v3h-1zM1033 273h1v3h-1zM1034 276h1v2h-1zM1035 278h1v3h-1zM1036 281h1v3h-1zM1037 284h1v2h-1zM1038 286h1v3h-1zM1039 289h1v2h-1zM1040 291h1v3h-1zM1041 294h1v3h-1zM1042 297h1v2h-1zM1043 299h1v3h-1zM1044 302h1v2h-1zM1045 304h1v3h-1zM1046 307h1v3h-1zM1047 310h1v3h-1zM1048 313h1v4h-1zM1049 317h1v3h-1zM1050 320h1v3h-1zM1051 323h1v3h-1zM1052 326h1v3h-1zM1053 329h1v3h-1zM1054 332h1v2h-1zM1055 334h1v3h-1zM1056 337h1v3h-1zM1057 340h1v2h-1zM1058 342h1v3h-1zM1059 345h1v3h-1zM1060 348h1v3h-1zM1061 351h1v4h-1zM1062 355h1v3h-1zM1063 358h1v3h-1zM1064 361h1v3h-1zM1065 364h1v3h-1zM1066 367h1v2h-1zM1067 369h1v3h-1zM1068 372h1v3h-1zM1069 375h1v2h-1zM1070 377h1v3h-1zM1071 380h1v3h-1zM1072 383h1v3h-1zM1073 386h1v4h-1zM1074 390h1v3h-1zM1075 393h1v3h-1zM1076 396h1v3h-1zM1077 399h1v4h-1zM1078 403h1v3h-1zM1079 406h1v3h-1zM1080 409h1v4h-1zM1081 413h1v4h-1zM1082 417h1v4h-1zM1083 421h1v4h-1zM1084 425h1v3h-1zM1085 428h1v2h-1zM1086 430h1v2h-1zM1087 432h1v2h-1zM1088 434h1v2h-1zM1089 436h1v2h-1zM1090 438h1v2h-1zM1091 440h1v2h-1zM1092 442h1v3h-1zM1093 445h1v3h-1zM1094 448h1v3h-1zM1095 451h1v2h-1zM1096 453h1v3h-1zM1097 456h1v3h-1zM1098 459h1v4h-1zM1099 463h1v3h-1zM1100 466h1v3h-1zM1101 469h1v2h-1zM1102 471h1v3h-1zM1103 474h1v3h-1zM1104 477h1v2h-1zM1105 479h1v3h-1zM1106 482h1v2h-1zM1107 484h1v3h-1zM1108 487h1v2h-1zM1109 489h1v2h-1zM1110 491h1v2h-1zM1111 493h1v2h-1zM1112 495h1v2h-1zM1113 497h1v2h-1zM1114 499h1v2h-1zM1115 501h1v2h-1z" fill="#0000cd" shape-rendering="crispEdges"/>
<g shape-rendering="crispEdges">
<rect x="4" y="163" width="1415" height="3" fill="#ff0000"/>
<rect x="4" y="327" width="1415" height="3" fill="#ff0000"/>
<rect x="4" y="458" width="1415" height="3" fill="#00ff00"/>
<rect x="3" y="24" width="1417" height="1" fill="#000"/>
<rect x="3" y="563" width="1417" height="1" fill="#000"/>
<rect x="3" y="24" width="1" height="540" fill="#000"/>
<rect x="1419" y="24" width="1" height="540" fill="#000"/>
<rect x="3" y="565" width="1417" height="1" fill="#000"/>
<rect x="3" y="668" width="1417" height="1" fill="#000"/>
<rect x="3" y="565" width="1" height="104" fill="#000"/>
<rect x="1419" y="565" width="1" height="104" fill="#000"/>
<rect x="3" y="670" width="1417" height="1" fill="#000"/>
<rect x="3" y="800" width="1417" height="1" fill="#000"/>
<rect x="3" y="670" width="1" height="131" fill="#000"/>
<rect x="1419" y="670" width="1" height="131" fill="#000"/>
<rect x="3" y="325" width="7" height="7" fill="#ff0000"/>
<rect x="1413" y="325" width="7" height="7" fill="#ff0000"/>
<rect x="6" y="328" width="1" height="1" fill="#fff"/>
<rect x="1416" y="328" width="1" height="1" fill="#fff"/>
<rect x="3" y="456" width="7" height="7" fill="#00ff00"/>
<rect x="1413" y="456" width="7" height="7" fill="#00ff00"/>
<rect x="6" y="459" width="1" height="1" fill="#fff"/>
<rect x="1416" y="459" width="1" height="1" fill="#fff"/>
<rect x="1420" y="32" width="2" height="1" fill="#000"/>
<rect x="1420" y="65" width="2" height="1" fill="#000"/>
<rect x="1420" y="98" width="2" height="1" fill="#000"/>
<rect x="1420" y="131" width="2" height="1" fill="#000"/>
<rect x="1420" y="164" width="2" height="1" fill="#000"/>
<rect x="1420" y="197" width="2" height="1" fill="#000"/>
<rect x="1420" y="230" width="2" height="1" fill="#000"/>
<rect x="1420" y="263" width="2" height="1" fill="#000"/>
<rect x="1420" y="296" width="2" height="1" fill="#000"/>
<rect x="1420" y="329" width="2" height="1" fill="#000"/>
<rect x="1420" y="362" width="2" height="1" fill="#000"/>
<rect x="1420" y="395" width="2" height="1" fill="#000"/>
<rect x="1420" y="428" width="2" height="1" fill="#000"/>
<rect x="1420" y="461" width="2" height="1" fill="#000"/>
<rect x="1420" y="494" width="2" height="1" fill="#000"/>
<rect x="1420" y="527" width="2" height="1" fill="#000"/>
<rect x="1420" y="560" width="2" height="1" fill="#000"/>
</g>
<text x="1425" y="36" font-size="9.8" fill="#000" textLength="33" lengthAdjust="spacingAndGlyphs" stroke="#000" stroke-width="0.18">0.72220</text>
<text x="1425" y="69" font-size="9.8" fill="#000" textLength="33" lengthAdjust="spacingAndGlyphs" stroke="#000" stroke-width="0.18">0.71915</text>
<text x="1425" y="102" font-size="9.8" fill="#000" textLength="33" lengthAdjust="spacingAndGlyphs" stroke="#000" stroke-width="0.18">0.71610</text>
<text x="1425" y="135" font-size="9.8" fill="#000" textLength="33" lengthAdjust="spacingAndGlyphs" stroke="#000" stroke-width="0.18">0.71310</text>
<text x="1425" y="201" font-size="9.8" fill="#000" textLength="33" lengthAdjust="spacingAndGlyphs" stroke="#000" stroke-width="0.18">0.70705</text>
<text x="1425" y="234" font-size="9.8" fill="#000" textLength="33" lengthAdjust="spacingAndGlyphs" stroke="#000" stroke-width="0.18">0.70400</text>
<text x="1425" y="267" font-size="9.8" fill="#000" textLength="33" lengthAdjust="spacingAndGlyphs" stroke="#000" stroke-width="0.18">0.70100</text>
<text x="1425" y="300" font-size="9.8" fill="#000" textLength="33" lengthAdjust="spacingAndGlyphs" stroke="#000" stroke-width="0.18">0.69795</text>
<text x="1425" y="366" font-size="9.8" fill="#000" textLength="33" lengthAdjust="spacingAndGlyphs" stroke="#000" stroke-width="0.18">0.69190</text>
<text x="1425" y="399" font-size="9.8" fill="#000" textLength="33" lengthAdjust="spacingAndGlyphs" stroke="#000" stroke-width="0.18">0.68885</text>
<text x="1425" y="432" font-size="9.8" fill="#000" textLength="33" lengthAdjust="spacingAndGlyphs" stroke="#000" stroke-width="0.18">0.68585</text>
<text x="1425" y="465" font-size="9.8" fill="#000" textLength="33" lengthAdjust="spacingAndGlyphs" stroke="#000" stroke-width="0.18">0.68280</text>
<text x="1425" y="498" font-size="9.8" fill="#000" textLength="33" lengthAdjust="spacingAndGlyphs" stroke="#000" stroke-width="0.18">0.67975</text>
<text x="1425" y="531" font-size="9.8" fill="#000" textLength="33" lengthAdjust="spacingAndGlyphs" stroke="#000" stroke-width="0.18">0.67675</text>
<text x="1425" y="564" font-size="9.8" fill="#000" textLength="33" lengthAdjust="spacingAndGlyphs" stroke="#000" stroke-width="0.18">0.67370</text>
<g shape-rendering="crispEdges">
<rect x="1421" y="158" width="41" height="11" fill="#ff0000"/>
<rect x="1421" y="322" width="41" height="11" fill="#ff0000"/>
<rect x="1421" y="453" width="41" height="11" fill="#00ff00"/>
<rect x="1421" y="512" width="41" height="11" fill="#000"/>
</g>
<text x="1425" y="167" font-size="9.8" fill="#fff" textLength="33" lengthAdjust="spacingAndGlyphs">0.71005</text>
<text x="1425" y="331" font-size="9.8" fill="#fff" textLength="33" lengthAdjust="spacingAndGlyphs">0.69503</text>
<text x="1425" y="462" font-size="9.8" fill="#fff" textLength="33" lengthAdjust="spacingAndGlyphs">0.68303</text>
<text x="1425" y="521" font-size="9.8" fill="#fff" textLength="33" lengthAdjust="spacingAndGlyphs">0.67771</text>
<polygon points="7,35 14,35 10.5,31" fill="#000"/>
<text x="20" y="35.7" font-size="9.8" fill="#000" textLength="67.5" lengthAdjust="spacingAndGlyphs" stroke="#000" stroke-width="0.18">AUDUSD-,Daily</text>
<text x="94" y="35.7" font-size="9.8" fill="#000" textLength="141" lengthAdjust="spacingAndGlyphs" stroke="#000" stroke-width="0.18">0.67618 0.67773 0.67607 0.67771</text>
<g shape-rendering="crispEdges">
<rect x="4" y="596" width="1" height="1" fill="#c0c0c0"/>
<rect x="12" y="595" width="1" height="2" fill="#c0c0c0"/>
<rect x="20" y="595" width="1" height="2" fill="#c0c0c0"/>
<rect x="28" y="596" width="1" height="3" fill="#c0c0c0"/>
<rect x="36" y="596" width="1" height="9" fill="#c0c0c0"/>
<rect x="44" y="596" width="1" height="12" fill="#c0c0c0"/>
<rect x="52" y="596" width="1" height="14" fill="#c0c0c0"/>
<rect x="60" y="596" width="1" height="16" fill="#c0c0c0"/>
<rect x="68" y="596" width="1" height="23" fill="#c0c0c0"/>
<rect x="76" y="596" width="1" height="29" fill="#c0c0c0"/>
<rect x="84" y="596" width="1" height="31" fill="#c0c0c0"/>
<rect x="92" y="596" width="1" height="33" fill="#c0c0c0"/>
<rect x="100" y="596" width="1" height="31" fill="#c0c0c0"/>
<rect x="108" y="596" width="1" height="30" fill="#c0c0c0"/>
<rect x="116" y="596" width="1" height="26" fill="#c0c0c0"/>
<rect x="124" y="596" width="1" height="25" fill="#c0c0c0"/>
<rect x="132" y="596" width="1" height="22" fill="#c0c0c0"/>
<rect x="140" y="596" width="1" height="20" fill="#c0c0c0"/>
<rect x="148" y="596" width="1" height="17" fill="#c0c0c0"/>
<rect x="156" y="596" width="1" height="15" fill="#c0c0c0"/>
<rect x="164" y="596" width="1" height="9" fill="#c0c0c0"/>
<rect x="172" y="596" width="1" height="7" fill="#c0c0c0"/>
<rect x="180" y="596" width="1" height="7" fill="#c0c0c0"/>
<rect x="188" y="596" width="1" height="8" fill="#c0c0c0"/>
<rect x="196" y="596" width="1" height="5" fill="#c0c0c0"/>
<rect x="212" y="596" width="1" height="2" fill="#c0c0c0"/>
<rect x="220" y="596" width="1" height="3" fill="#c0c0c0"/>
<rect x="228" y="596" width="1" height="3" fill="#c0c0c0"/>
<rect x="236" y="596" width="1" height="1" fill="#c0c0c0"/>
<rect x="244" y="596" width="1" height="1" fill="#c0c0c0"/>
<rect x="252" y="596" width="1" height="3" fill="#c0c0c0"/>
<rect x="260" y="596" width="1" height="1" fill="#c0c0c0"/>
<rect x="292" y="595" width="1" height="2" fill="#c0c0c0"/>
<rect x="300" y="593" width="1" height="4" fill="#c0c0c0"/>
<rect x="308" y="588" width="1" height="9" fill="#c0c0c0"/>
<rect x="316" y="588" width="1" height="9" fill="#c0c0c0"/>
<rect x="324" y="583" width="1" height="14" fill="#c0c0c0"/>
<rect x="332" y="580" width="1" height="17" fill="#c0c0c0"/>
<rect x="340" y="578" width="1" height="19" fill="#c0c0c0"/>
<rect x="348" y="577" width="1" height="20" fill="#c0c0c0"/>
<rect x="356" y="575" width="1" height="22" fill="#c0c0c0"/>
<rect x="364" y="577" width="1" height="20" fill="#c0c0c0"/>
<rect x="372" y="579" width="1" height="18" fill="#c0c0c0"/>
<rect x="380" y="581" width="1" height="16" fill="#c0c0c0"/>
<rect x="388" y="587" width="1" height="10" fill="#c0c0c0"/>
<rect x="396" y="596" width="1" height="2" fill="#c0c0c0"/>
<rect x="404" y="596" width="1" height="11" fill="#c0c0c0"/>
<rect x="412" y="596" width="1" height="16" fill="#c0c0c0"/>
<rect x="420" y="596" width="1" height="20" fill="#c0c0c0"/>
<rect x="428" y="596" width="1" height="21" fill="#c0c0c0"/>
<rect x="436" y="596" width="1" height="23" fill="#c0c0c0"/>
<rect x="444" y="596" width="1" height="27" fill="#c0c0c0"/>
<rect x="452" y="596" width="1" height="31" fill="#c0c0c0"/>
<rect x="460" y="596" width="1" height="33" fill="#c0c0c0"/>
<rect x="468" y="596" width="1" height="37" fill="#c0c0c0"/>
<rect x="476" y="596" width="1" height="39" fill="#c0c0c0"/>
<rect x="484" y="596" width="1" height="38" fill="#c0c0c0"/>
<rect x="492" y="596" width="1" height="38" fill="#c0c0c0"/>
<rect x="500" y="596" width="1" height="39" fill="#c0c0c0"/>
<rect x="508" y="596" width="1" height="38" fill="#c0c0c0"/>
<rect x="516" y="596" width="1" height="37" fill="#c0c0c0"/>
<rect x="524" y="596" width="1" height="41" fill="#c0c0c0"/>
<rect x="532" y="596" width="1" height="43" fill="#c0c0c0"/>
<rect x="540" y="596" width="1" height="46" fill="#c0c0c0"/>
<rect x="548" y="596" width="1" height="51" fill="#c0c0c0"/>
<rect x="556" y="596" width="1" height="56" fill="#c0c0c0"/>
<rect x="564" y="596" width="1" height="57" fill="#c0c0c0"/>
<rect x="572" y="596" width="1" height="55" fill="#c0c0c0"/>
<rect x="580" y="596" width="1" height="56" fill="#c0c0c0"/>
<rect x="588" y="596" width="1" height="57" fill="#c0c0c0"/>
<rect x="596" y="596" width="1" height="55" fill="#c0c0c0"/>
<rect x="604" y="596" width="1" height="50" fill="#c0c0c0"/>
<rect x="612" y="596" width="1" height="45" fill="#c0c0c0"/>
<rect x="620" y="596" width="1" height="42" fill="#c0c0c0"/>
<rect x="628" y="596" width="1" height="39" fill="#c0c0c0"/>
<rect x="636" y="596" width="1" height="36" fill="#c0c0c0"/>
<rect x="644" y="596" width="1" height="35" fill="#c0c0c0"/>
<rect x="652" y="596" width="1" height="31" fill="#c0c0c0"/>
<rect x="660" y="596" width="1" height="28" fill="#c0c0c0"/>
<rect x="668" y="596" width="1" height="21" fill="#c0c0c0"/>
<rect x="676" y="596" width="1" height="14" fill="#c0c0c0"/>
<rect x="684" y="596" width="1" height="10" fill="#c0c0c0"/>
<rect x="692" y="596" width="1" height="7" fill="#c0c0c0"/>
<rect x="700" y="596" width="1" height="1" fill="#c0c0c0"/>
<rect x="708" y="595" width="1" height="2" fill="#c0c0c0"/>
<rect x="716" y="595" width="1" height="2" fill="#c0c0c0"/>
<rect x="724" y="596" width="1" height="1" fill="#c0c0c0"/>
<rect x="732" y="596" width="1" height="2" fill="#c0c0c0"/>
<rect x="740" y="596" width="1" height="6" fill="#c0c0c0"/>
<rect x="748" y="596" width="1" height="13" fill="#c0c0c0"/>
<rect x="756" y="596" width="1" height="18" fill="#c0c0c0"/>
<rect x="764" y="596" width="1" height="24" fill="#c0c0c0"/>
<rect x="772" y="596" width="1" height="25" fill="#c0c0c0"/>
<rect x="780" y="596" width="1" height="26" fill="#c0c0c0"/>
<rect x="788" y="596" width="1" height="22" fill="#c0c0c0"/>
<rect x="796" y="596" width="1" height="18" fill="#c0c0c0"/>
<rect x="804" y="596" width="1" height="15" fill="#c0c0c0"/>
<rect x="812" y="596" width="1" height="9" fill="#c0c0c0"/>
<rect x="820" y="596" width="1" height="5" fill="#c0c0c0"/>
<rect x="836" y="591" width="1" height="6" fill="#c0c0c0"/>
<rect x="844" y="584" width="1" height="13" fill="#c0c0c0"/>
<rect x="852" y="580" width="1" height="17" fill="#c0c0c0"/>
<rect x="860" y="581" width="1" height="16" fill="#c0c0c0"/>
<rect x="868" y="580" width="1" height="17" fill="#c0c0c0"/>
<rect x="876" y="576" width="1" height="21" fill="#c0c0c0"/>
<rect x="884" y="574" width="1" height="23" fill="#c0c0c0"/>
<rect x="892" y="576" width="1" height="21" fill="#c0c0c0"/>
<rect x="900" y="579" width="1" height="18" fill="#c0c0c0"/>
<rect x="908" y="581" width="1" height="16" fill="#c0c0c0"/>
<rect x="916" y="588" width="1" height="9" fill="#c0c0c0"/>
<rect x="924" y="590" width="1" height="7" fill="#c0c0c0"/>
<rect x="932" y="590" width="1" height="7" fill="#c0c0c0"/>
<rect x="940" y="586" width="1" height="11" fill="#c0c0c0"/>
<rect x="948" y="584" width="1" height="13" fill="#c0c0c0"/>
<rect x="956" y="580" width="1" height="17" fill="#c0c0c0"/>
<rect x="964" y="579" width="1" height="18" fill="#c0c0c0"/>
<rect x="972" y="579" width="1" height="18" fill="#c0c0c0"/>
<rect x="980" y="574" width="1" height="23" fill="#c0c0c0"/>
<rect x="988" y="573" width="1" height="24" fill="#c0c0c0"/>
<rect x="996" y="572" width="1" height="25" fill="#c0c0c0"/>
<rect x="1004" y="573" width="1" height="24" fill="#c0c0c0"/>
<rect x="1012" y="577" width="1" height="20" fill="#c0c0c0"/>
<rect x="1020" y="582" width="1" height="15" fill="#c0c0c0"/>
<rect x="1028" y="589" width="1" height="8" fill="#c0c0c0"/>
<rect x="1036" y="596" width="1" height="1" fill="#c0c0c0"/>
<rect x="1044" y="596" width="1" height="9" fill="#c0c0c0"/>
<rect x="1052" y="596" width="1" height="15" fill="#c0c0c0"/>
<rect x="1060" y="596" width="1" height="22" fill="#c0c0c0"/>
<rect x="1068" y="596" width="1" height="30" fill="#c0c0c0"/>
<rect x="1076" y="596" width="1" height="40" fill="#c0c0c0"/>
<rect x="1084" y="596" width="1" height="48" fill="#c0c0c0"/>
<rect x="1092" y="596" width="1" height="54" fill="#c0c0c0"/>
<rect x="1100" y="596" width="1" height="61" fill="#c0c0c0"/>
<rect x="1108" y="596" width="1" height="65" fill="#c0c0c0"/>
<rect x="1116" y="596" width="1" height="67" fill="#c0c0c0"/>
<rect x="796" y="567" width="1" height="5" fill="#ff0000"/>
<rect x="1420" y="596" width="2" height="1" fill="#000"/>
</g>
<path d="M1012 576h3v1h-3zM1018 576h3v1h-3zM1006 577h3v1h-3zM1025 577h2v1h-2zM905 578h2v1h-2zM910 578h3v1h-3zM916 578h3v1h-3zM1000 578h3v1h-3zM1031 578h2v1h-2zM371 579h2v1h-2zM376 579h3v1h-3zM382 579h3v1h-3zM388 579h3v1h-3zM899 579h2v1h-2zM922 579h3v1h-3zM995 579h2v1h-2zM1036 579h2v1h-2zM394 580h3v1h-3zM929 580h2v1h-2zM934 580h3v1h-3zM364 581h3v1h-3zM892 581h3v1h-3zM940 581h3v1h-3zM988 581h3v1h-3zM358 582h3v1h-3zM401 582h2v1h-2zM946 582h3v1h-3zM977 582h2v1h-2zM982 582h3v1h-3zM1043 582h2v1h-2zM353 583h2v1h-2zM886 583h3v1h-3zM953 583h2v1h-2zM958 583h3v1h-3zM964 583h3v1h-3zM970 583h3v1h-3zM406 584h2v1h-2zM1049 584h2v1h-2zM347 585h2v1h-2zM880 586h2v1h-2zM340 588h2v1h-2zM413 588h2v1h-2zM335 589h2v1h-2zM874 589h2v1h-2zM328 591h3v1h-3zM418 591h2v1h-2zM323 592h2v1h-2zM868 592h2v1h-2zM1061 592h2v1h-2zM316 594h3v1h-3zM305 595h2v1h-2zM310 595h3v1h-3zM862 595h2v1h-2zM298 596h3v1h-3zM274 597h3v1h-3zM280 597h3v1h-3zM286 597h3v1h-3zM292 597h3v1h-3zM257 598h2v1h-2zM262 598h3v1h-3zM268 598h3v1h-3zM856 598h2v1h-2zM244 599h3v1h-3zM250 599h3v1h-3zM431 599h2v1h-2zM28 600h3v1h-3zM34 600h3v1h-3zM233 600h2v1h-2zM238 600h3v1h-3zM742 600h3v1h-3zM748 600h3v1h-3zM22 601h3v1h-3zM41 601h2v1h-2zM46 601h3v1h-3zM226 601h3v1h-3zM736 601h3v1h-3zM754 601h3v1h-3zM850 601h2v1h-2zM1073 601h2v1h-2zM16 602h3v1h-3zM52 602h3v1h-3zM58 602h3v1h-3zM220 602h3v1h-3zM436 602h2v1h-2zM731 602h2v1h-2zM761 602h2v1h-2zM11 603h2v1h-2zM65 603h2v1h-2zM214 603h3v1h-3zM766 603h3v1h-3zM70 604h3v1h-3zM209 604h2v1h-2zM845 604h2v1h-2zM443 605h2v1h-2zM724 605h2v1h-2zM772 605h2v1h-2zM4 606h2v1h-2zM76 606h2v1h-2zM203 606h2v1h-2zM718 607h3v1h-3zM196 608h3v1h-3zM779 608h2v1h-2zM839 608h2v1h-2zM82 609h2v1h-2zM191 609h2v1h-2zM449 609h2v1h-2zM712 610h2v1h-2zM785 610h2v1h-2zM184 611h3v1h-3zM832 611h3v1h-3zM179 612h2v1h-2zM707 612h2v1h-2zM791 612h2v1h-2zM827 612h2v1h-2zM455 613h2v1h-2zM796 613h3v1h-3zM820 614h3v1h-3zM172 615h2v1h-2zM700 615h2v1h-2zM803 615h2v1h-2zM808 615h3v1h-3zM814 615h3v1h-3zM94 616h3v1h-3zM167 616h2v1h-2zM460 616h2v1h-2zM100 618h3v1h-3zM161 618h2v1h-2zM466 619h2v1h-2zM107 620h2v1h-2zM154 620h3v1h-3zM113 621h2v1h-2zM148 621h3v1h-3zM119 622h2v1h-2zM143 622h2v1h-2zM473 622h2v1h-2zM1095 622h2v1h-2zM124 623h3v1h-3zM137 623h2v1h-2zM688 623h2v1h-2zM130 624h3v1h-3zM478 624h3v1h-3zM683 625h2v1h-2zM484 626h3v1h-3zM491 628h2v1h-2zM676 628h2v1h-2zM496 629h3v1h-3zM503 631h2v1h-2zM670 631h2v1h-2zM508 632h3v1h-3zM514 633h3v1h-3zM521 634h2v1h-2zM526 634h3v1h-3zM664 634h2v1h-2zM532 635h3v1h-3zM538 636h3v1h-3zM659 636h2v1h-2zM545 637h2v1h-2zM551 638h2v1h-2zM556 639h3v1h-3zM652 639h2v1h-2zM563 641h2v1h-2zM646 641h3v1h-3zM568 642h3v1h-3zM640 643h3v1h-3zM575 644h2v1h-2zM635 644h2v1h-2zM580 645h3v1h-3zM587 647h2v1h-2zM628 647h2v1h-2zM593 648h2v1h-2zM617 648h2v1h-2zM622 648h3v1h-3zM599 649h2v1h-2zM610 649h3v1h-3zM604 650h3v1h-3zM6 605h1v1h-1zM10 604h1v1h-1zM40 600h1v1h-1zM64 602h1v1h-1zM78 607h1v1h-1zM84 610h1v1h-1zM88 612h1v1h-1zM89 613h1v1h-1zM90 614h1v1h-1zM106 619h1v1h-1zM112 620h1v1h-1zM118 621h1v1h-1zM136 624h1v1h-1zM142 623h1v1h-1zM160 619h1v1h-1zM166 617h1v1h-1zM174 614h1v1h-1zM178 613h1v1h-1zM190 610h1v1h-1zM202 607h1v1h-1zM208 605h1v1h-1zM232 601h1v1h-1zM256 599h1v1h-1zM304 596h1v1h-1zM322 593h1v1h-1zM334 590h1v1h-1zM342 587h1v1h-1zM346 586h1v1h-1zM352 584h1v1h-1zM370 580h1v1h-1zM400 581h1v1h-1zM408 585h1v1h-1zM412 587h1v1h-1zM420 592h1v1h-1zM424 594h1v1h-1zM425 595h1v1h-1zM426 596h1v1h-1zM430 598h1v1h-1zM438 603h1v1h-1zM442 604h1v1h-1zM448 608h1v1h-1zM454 612h1v1h-1zM462 617h1v1h-1zM468 620h1v1h-1zM472 621h1v1h-1zM490 627h1v1h-1zM502 630h1v1h-1zM520 633h1v1h-1zM544 636h1v1h-1zM550 637h1v1h-1zM562 640h1v1h-1zM574 643h1v1h-1zM586 646h1v1h-1zM592 647h1v1h-1zM598 648h1v1h-1zM616 649h1v1h-1zM630 646h1v1h-1zM634 645h1v1h-1zM654 638h1v1h-1zM658 637h1v1h-1zM666 633h1v1h-1zM672 630h1v1h-1zM678 627h1v1h-1zM682 626h1v1h-1zM690 622h1v1h-1zM694 620h1v1h-1zM695 619h1v1h-1zM696 618h1v1h-1zM702 614h1v1h-1zM706 613h1v1h-1zM714 609h1v1h-1zM726 604h1v1h-1zM730 603h1v1h-1zM760 601h1v1h-1zM774 606h1v1h-1zM778 607h1v1h-1zM784 609h1v1h-1zM790 611h1v1h-1zM802 614h1v1h-1zM826 613h1v1h-1zM838 609h1v1h-1zM844 605h1v1h-1zM852 600h1v1h-1zM858 597h1v1h-1zM864 594h1v1h-1zM870 591h1v1h-1zM876 588h1v1h-1zM882 585h1v1h-1zM898 580h1v1h-1zM904 579h1v1h-1zM928 579h1v1h-1zM952 582h1v1h-1zM976 583h1v1h-1zM994 580h1v1h-1zM1024 576h1v1h-1zM1030 577h1v1h-1zM1038 580h1v1h-1zM1042 581h1v1h-1zM1048 583h1v1h-1zM1054 586h1v1h-1zM1055 587h1v1h-1zM1056 588h1v1h-1zM1060 591h1v1h-1zM1066 595h1v1h-1zM1067 596h1v1h-1zM1068 597h1v1h-1zM1072 600h1v1h-1zM1078 605h1v1h-1zM1079 606h1v1h-1zM1080 607h1v1h-1zM1083 611h1v1h-1zM1084 612h1v1h-1zM1085 613h1v1h-1zM1089 616h1v1h-1zM1090 617h1v1h-1zM1091 618h1v1h-1zM1097 623h1v1h-1zM1101 627h1v1h-1zM1102 628h1v1h-1zM1103 629h1v1h-1zM1107 632h1v1h-1zM1108 633h1v1h-1zM1109 634h1v1h-1zM1113 637h1v1h-1zM1114 638h1v1h-1zM1115 639h1v1h-1z" fill="#ff0000" shape-rendering="crispEdges"/>
<text x="8.2" y="577.7" font-size="9.8" fill="#000" textLength="64.8" lengthAdjust="spacingAndGlyphs" stroke="#000" stroke-width="0.18">MACD(12,26,9)</text>
<text x="77" y="577.7" font-size="9.8" fill="#000" textLength="84.7" lengthAdjust="spacingAndGlyphs" stroke="#000" stroke-width="0.18">-0.005755 -0.003843</text>
<text x="1423" y="576" font-size="9.8" fill="#000" textLength="38" lengthAdjust="spacingAndGlyphs" stroke="#000" stroke-width="0.18">0.002566</text>
<text x="1423" y="600" font-size="9.8" fill="#000" textLength="18" lengthAdjust="spacingAndGlyphs" stroke="#000" stroke-width="0.18">0.00</text>
<text x="1423.4" y="665" font-size="9.8" fill="#000" textLength="40.3" lengthAdjust="spacingAndGlyphs" stroke="#000" stroke-width="0.18">-0.006151</text>
<g shape-rendering="crispEdges">
<line x1="4" y1="710.5" x2="1419" y2="710.5" stroke="#c0c0c0" stroke-dasharray="3 3"/>
<line x1="4" y1="761.5" x2="1419" y2="761.5" stroke="#c0c0c0" stroke-dasharray="3 3"/>
<rect x="4" y="801" width="1" height="3" fill="#000"/>
<rect x="68" y="801" width="1" height="3" fill="#000"/>
<rect x="132" y="801" width="1" height="3" fill="#000"/>
<rect x="196" y="801" width="1" height="3" fill="#000"/>
<rect x="260" y="801" width="1" height="3" fill="#000"/>
<rect x="324" y="801" width="1" height="3" fill="#000"/>
<rect x="388" y="801" width="1" height="3" fill="#000"/>
<rect x="452" y="801" width="1" height="3" fill="#000"/>
<rect x="516" y="801" width="1" height="3" fill="#000"/>
<rect x="580" y="801" width="1" height="3" fill="#000"/>
<rect x="644" y="801" width="1" height="3" fill="#000"/>
<rect x="708" y="801" width="1" height="3" fill="#000"/>
<rect x="772" y="801" width="1" height="3" fill="#000"/>
<rect x="836" y="801" width="1" height="3" fill="#000"/>
<rect x="900" y="801" width="1" height="3" fill="#000"/>
<rect x="964" y="801" width="1" height="3" fill="#000"/>
<rect x="1028" y="801" width="1" height="3" fill="#000"/>
<rect x="1092" y="801" width="1" height="3" fill="#000"/>
</g>
<path d="M843 717h10v1h-10zM841 718h2v1h-2zM838 719h3v1h-3zM836 720h2v1h-2zM834 721h2v1h-2zM876 721h5v1h-5zM981 721h2v1h-2zM832 722h2v1h-2zM881 722h4v1h-4zM830 723h2v1h-2zM873 723h2v1h-2zM955 723h2v1h-2zM324 724h19v1h-19zM355 724h2v1h-2zM700 724h2v1h-2zM828 724h2v1h-2zM953 724h2v1h-2zM957 724h2v1h-2zM985 724h2v1h-2zM343 725h4v1h-4zM351 725h4v1h-4zM702 725h3v1h-3zM826 725h2v1h-2zM940 725h5v1h-5zM950 725h3v1h-3zM959 725h2v1h-2zM347 726h4v1h-4zM705 726h2v1h-2zM869 726h2v1h-2zM945 726h5v1h-5zM988 726h10v1h-10zM11 727h2v1h-2zM359 727h2v1h-2zM674 727h2v1h-2zM677 727h2v1h-2zM707 727h2v1h-2zM823 727h2v1h-2zM962 727h2v1h-2zM998 727h3v1h-3zM9 728h2v1h-2zM203 728h2v1h-2zM672 728h2v1h-2zM695 728h2v1h-2zM812 728h5v1h-5zM821 728h2v1h-2zM964 728h3v1h-3zM1001 728h2v1h-2zM6 729h3v1h-3zM165 729h2v1h-2zM201 729h2v1h-2zM670 729h2v1h-2zM810 729h2v1h-2zM817 729h4v1h-4zM865 729h2v1h-2zM967 729h4v1h-4zM1003 729h2v1h-2zM4 730h2v1h-2zM198 730h3v1h-3zM297 730h4v1h-4zM668 730h2v1h-2zM681 730h2v1h-2zM808 730h2v1h-2zM971 730h2v1h-2zM196 731h2v1h-2zM292 731h5v1h-5zM364 731h10v1h-10zM689 731h4v1h-4zM806 731h2v1h-2zM169 732h2v1h-2zM260 732h3v1h-3zM290 732h2v1h-2zM374 732h2v1h-2zM684 732h5v1h-5zM804 732h2v1h-2zM861 732h2v1h-2zM1007 732h2v1h-2zM235 733h10v1h-10zM263 733h4v1h-4zM288 733h2v1h-2zM376 733h2v1h-2zM802 733h2v1h-2zM892 733h11v1h-11zM231 734h4v1h-4zM267 734h6v1h-6zM286 734h2v1h-2zM378 734h2v1h-2zM800 734h2v1h-2zM903 734h4v1h-4zM931 734h2v1h-2zM147 735h4v1h-4zM173 735h2v1h-2zM228 735h3v1h-3zM273 735h13v1h-13zM798 735h2v1h-2zM907 735h2v1h-2zM929 735h2v1h-2zM145 736h2v1h-2zM151 736h4v1h-4zM175 736h2v1h-2zM226 736h2v1h-2zM716 736h9v1h-9zM793 736h5v1h-5zM926 736h3v1h-3zM1012 736h2v1h-2zM142 737h3v1h-3zM155 737h2v1h-2zM224 737h2v1h-2zM788 737h5v1h-5zM924 737h2v1h-2zM1014 737h2v1h-2zM116 738h2v1h-2zM132 738h10v1h-10zM178 738h2v1h-2zM222 738h2v1h-2zM1016 738h2v1h-2zM114 739h2v1h-2zM118 739h2v1h-2zM130 739h2v1h-2zM180 739h9v1h-9zM212 739h10v1h-10zM652 739h3v1h-3zM727 739h2v1h-2zM1018 739h2v1h-2zM120 740h2v1h-2zM128 740h2v1h-2zM655 740h4v1h-4zM111 741h2v1h-2zM122 741h2v1h-2zM126 741h2v1h-2zM659 741h2v1h-2zM919 741h2v1h-2zM1021 741h2v1h-2zM44 742h5v1h-5zM100 742h5v1h-5zM109 742h2v1h-2zM124 742h2v1h-2zM1023 742h2v1h-2zM28 743h2v1h-2zM42 743h2v1h-2zM49 743h8v1h-8zM105 743h4v1h-4zM604 743h5v1h-5zM732 743h2v1h-2zM30 744h2v1h-2zM57 744h4v1h-4zM609 744h6v1h-6zM627 744h4v1h-4zM734 744h2v1h-2zM1026 744h2v1h-2zM32 745h2v1h-2zM39 745h2v1h-2zM615 745h4v1h-4zM623 745h4v1h-4zM631 745h4v1h-4zM736 745h2v1h-2zM34 746h2v1h-2zM37 746h2v1h-2zM95 746h2v1h-2zM427 746h6v1h-6zM619 746h4v1h-4zM635 746h3v1h-3zM738 746h2v1h-2zM777 746h4v1h-4zM84 747h3v1h-3zM425 747h2v1h-2zM433 747h4v1h-4zM638 747h3v1h-3zM772 747h5v1h-5zM87 748h4v1h-4zM422 748h3v1h-3zM437 748h2v1h-2zM484 748h3v1h-3zM507 748h3v1h-3zM641 748h2v1h-2zM1031 748h2v1h-2zM81 749h2v1h-2zM91 749h2v1h-2zM417 749h5v1h-5zM482 749h2v1h-2zM487 749h4v1h-4zM505 749h2v1h-2zM510 749h3v1h-3zM643 749h2v1h-2zM412 750h5v1h-5zM480 750h2v1h-2zM491 750h6v1h-6zM502 750h3v1h-3zM513 750h2v1h-2zM441 751h2v1h-2zM478 751h2v1h-2zM497 751h5v1h-5zM515 751h2v1h-2zM68 752h5v1h-5zM77 752h2v1h-2zM409 752h2v1h-2zM476 752h2v1h-2zM517 752h2v1h-2zM754 752h2v1h-2zM757 752h2v1h-2zM1036 752h13v1h-13zM73 753h4v1h-4zM444 753h2v1h-2zM463 753h2v1h-2zM474 753h2v1h-2zM570 753h2v1h-2zM573 753h2v1h-2zM752 753h2v1h-2zM759 753h2v1h-2zM1049 753h5v1h-5zM446 754h2v1h-2zM455 754h2v1h-2zM575 754h2v1h-2zM594 754h2v1h-2zM750 754h2v1h-2zM1054 754h2v1h-2zM405 755h2v1h-2zM448 755h2v1h-2zM471 755h2v1h-2zM521 755h2v1h-2zM567 755h2v1h-2zM748 755h2v1h-2zM762 755h2v1h-2zM1056 755h2v1h-2zM401 756h4v1h-4zM450 756h2v1h-2zM469 756h2v1h-2zM565 756h2v1h-2zM578 756h2v1h-2zM591 756h2v1h-2zM1058 756h2v1h-2zM396 757h5v1h-5zM524 757h3v1h-3zM580 757h5v1h-5zM589 757h2v1h-2zM1060 757h2v1h-2zM527 758h4v1h-4zM585 758h4v1h-4zM1062 758h2v1h-2zM531 759h4v1h-4zM1064 759h2v1h-2zM535 760h4v1h-4zM1066 760h2v1h-2zM539 761h3v1h-3zM542 762h2v1h-2zM1069 762h2v1h-2zM544 763h2v1h-2zM1071 763h2v1h-2zM546 764h2v1h-2zM548 765h2v1h-2zM1074 765h2v1h-2zM550 766h3v1h-3zM1076 766h13v1h-13zM1114 766h2v1h-2zM553 767h2v1h-2zM1089 767h5v1h-5zM555 768h2v1h-2zM1094 768h3v1h-3zM1111 768h2v1h-2zM1097 769h2v1h-2zM1109 769h2v1h-2zM1099 770h10v1h-10zM13 728h1v1h-1zM14 729h1v1h-1zM15 730h1v1h-1zM16 731h1v1h-1zM17 732h1v1h-1zM18 733h1v1h-1zM19 734h1v1h-1zM20 735h1v1h-1zM21 736h1v1h-1zM22 737h1v1h-1zM23 738h1v1h-1zM24 739h1v1h-1zM25 740h1v1h-1zM26 741h1v1h-1zM27 742h1v1h-1zM36 747h1v1h-1zM41 744h1v1h-1zM61 745h1v1h-1zM62 746h1v1h-1zM63 747h1v1h-1zM64 748h1v1h-1zM65 749h1v1h-1zM66 750h1v1h-1zM67 751h1v1h-1zM79 751h1v1h-1zM80 750h1v1h-1zM83 748h1v1h-1zM93 748h1v1h-1zM94 747h1v1h-1zM97 745h1v1h-1zM98 744h1v1h-1zM99 743h1v1h-1zM113 740h1v1h-1zM157 736h1v1h-1zM158 735h1v1h-1zM159 734h1v1h-1zM160 732h1v2h-1zM161 731h1v1h-1zM162 730h1v1h-1zM163 729h1v1h-1zM164 728h1v1h-1zM167 730h1v1h-1zM168 731h1v1h-1zM171 733h1v1h-1zM172 734h1v1h-1zM177 737h1v1h-1zM189 738h1v1h-1zM190 737h1v1h-1zM191 736h1v1h-1zM192 735h1v1h-1zM193 734h1v1h-1zM194 733h1v1h-1zM195 732h1v1h-1zM205 729h1v2h-1zM206 731h1v1h-1zM207 732h1v1h-1zM208 733h1v2h-1zM209 735h1v1h-1zM210 736h1v1h-1zM211 737h1v2h-1zM245 734h1v2h-1zM246 736h1v1h-1zM247 737h1v1h-1zM248 738h1v2h-1zM249 740h1v1h-1zM250 741h1v1h-1zM251 742h1v2h-1zM252 744h1v1h-1zM253 742h1v2h-1zM254 741h1v1h-1zM255 739h1v2h-1zM256 738h1v1h-1zM257 736h1v2h-1zM258 735h1v1h-1zM259 733h1v2h-1zM301 729h1v1h-1zM302 728h1v1h-1zM303 727h1v1h-1zM304 726h1v1h-1zM305 725h1v1h-1zM306 724h1v1h-1zM307 723h1v1h-1zM308 722h1v1h-1zM309 723h1v1h-1zM310 724h1v2h-1zM311 726h1v1h-1zM312 727h1v1h-1zM313 728h1v1h-1zM314 729h1v2h-1zM315 731h1v1h-1zM316 732h1v1h-1zM317 731h1v1h-1zM318 730h1v1h-1zM319 729h1v1h-1zM320 728h1v1h-1zM321 727h1v1h-1zM322 726h1v1h-1zM323 725h1v1h-1zM357 725h1v1h-1zM358 726h1v1h-1zM361 728h1v1h-1zM362 729h1v1h-1zM363 730h1v1h-1zM380 735h1v1h-1zM381 736h1v1h-1zM382 737h1v1h-1zM383 738h1v1h-1zM384 739h1v1h-1zM385 740h1v1h-1zM386 741h1v1h-1zM387 742h1v1h-1zM388 743h1v1h-1zM389 744h1v2h-1zM390 746h1v2h-1zM391 748h1v2h-1zM392 750h1v1h-1zM393 751h1v2h-1zM394 753h1v2h-1zM395 755h1v2h-1zM407 754h1v1h-1zM408 753h1v1h-1zM411 751h1v1h-1zM439 749h1v1h-1zM440 750h1v1h-1zM443 752h1v1h-1zM452 757h1v1h-1zM453 756h1v1h-1zM454 755h1v1h-1zM457 753h1v1h-1zM458 752h1v1h-1zM459 751h1v1h-1zM460 750h1v1h-1zM461 751h1v1h-1zM462 752h1v1h-1zM465 754h1v1h-1zM466 755h1v1h-1zM467 756h1v1h-1zM468 757h1v1h-1zM473 754h1v1h-1zM519 753h1v1h-1zM520 754h1v1h-1zM523 756h1v1h-1zM557 766h1v2h-1zM558 765h1v1h-1zM559 764h1v1h-1zM560 762h1v2h-1zM561 761h1v1h-1zM562 760h1v1h-1zM563 758h1v2h-1zM564 757h1v1h-1zM569 754h1v1h-1zM572 752h1v1h-1zM577 755h1v1h-1zM593 755h1v1h-1zM596 753h1v1h-1zM597 752h1v1h-1zM598 750h1v2h-1zM599 749h1v1h-1zM600 748h1v1h-1zM601 747h1v1h-1zM602 745h1v2h-1zM603 744h1v1h-1zM645 748h1v1h-1zM646 746h1v2h-1zM647 745h1v1h-1zM648 744h1v1h-1zM649 743h1v1h-1zM650 741h1v2h-1zM651 740h1v1h-1zM661 739h1v2h-1zM662 738h1v1h-1zM663 737h1v1h-1zM664 735h1v2h-1zM665 734h1v1h-1zM666 733h1v1h-1zM667 731h1v2h-1zM676 726h1v1h-1zM679 728h1v1h-1zM680 729h1v1h-1zM683 731h1v1h-1zM693 730h1v1h-1zM694 729h1v1h-1zM697 727h1v1h-1zM698 726h1v1h-1zM699 725h1v1h-1zM709 728h1v1h-1zM710 729h1v1h-1zM711 730h1v1h-1zM712 731h1v2h-1zM713 733h1v1h-1zM714 734h1v1h-1zM715 735h1v1h-1zM725 737h1v1h-1zM726 738h1v1h-1zM729 740h1v1h-1zM730 741h1v1h-1zM731 742h1v1h-1zM740 747h1v1h-1zM741 748h1v1h-1zM742 749h1v1h-1zM743 750h1v1h-1zM744 751h1v1h-1zM745 752h1v1h-1zM746 753h1v1h-1zM747 754h1v1h-1zM756 751h1v1h-1zM761 754h1v1h-1zM764 756h1v1h-1zM765 755h1v1h-1zM766 754h1v1h-1zM767 753h1v1h-1zM768 751h1v2h-1zM769 750h1v1h-1zM770 749h1v1h-1zM771 748h1v1h-1zM781 745h1v1h-1zM782 744h1v1h-1zM783 743h1v1h-1zM784 741h1v2h-1zM785 740h1v1h-1zM786 739h1v1h-1zM787 738h1v1h-1zM825 726h1v1h-1zM852 718h1v1h-1zM853 719h1v2h-1zM854 721h1v2h-1zM855 723h1v2h-1zM856 725h1v2h-1zM857 727h1v2h-1zM858 729h1v2h-1zM859 731h1v2h-1zM860 733h1v1h-1zM863 731h1v1h-1zM864 730h1v1h-1zM867 728h1v1h-1zM868 727h1v1h-1zM871 725h1v1h-1zM872 724h1v1h-1zM875 722h1v1h-1zM885 723h1v2h-1zM886 725h1v1h-1zM887 726h1v1h-1zM888 727h1v2h-1zM889 729h1v1h-1zM890 730h1v1h-1zM891 731h1v2h-1zM909 736h1v1h-1zM910 737h1v1h-1zM911 738h1v1h-1zM912 739h1v2h-1zM913 741h1v1h-1zM914 742h1v1h-1zM915 743h1v1h-1zM916 744h1v1h-1zM917 743h1v1h-1zM918 742h1v1h-1zM921 740h1v1h-1zM922 739h1v1h-1zM923 738h1v1h-1zM933 733h1v1h-1zM934 732h1v1h-1zM935 731h1v1h-1zM936 729h1v2h-1zM937 728h1v1h-1zM938 727h1v1h-1zM939 726h1v1h-1zM961 726h1v1h-1zM973 729h1v1h-1zM974 727h1v2h-1zM975 726h1v1h-1zM976 725h1v1h-1zM977 724h1v1h-1zM978 722h1v2h-1zM979 721h1v1h-1zM980 720h1v1h-1zM983 722h1v1h-1zM984 723h1v1h-1zM987 725h1v1h-1zM1005 730h1v1h-1zM1006 731h1v1h-1zM1009 733h1v1h-1zM1010 734h1v1h-1zM1011 735h1v1h-1zM1020 740h1v1h-1zM1025 743h1v1h-1zM1028 745h1v1h-1zM1029 746h1v1h-1zM1030 747h1v1h-1zM1033 749h1v1h-1zM1034 750h1v1h-1zM1035 751h1v1h-1zM1068 761h1v1h-1zM1073 764h1v1h-1zM1113 767h1v1h-1zM1116 765h1v1h-1z" fill="#1e90ff" shape-rendering="crispEdges"/>
<text x="8" y="682.7" font-size="9.8" fill="#000" textLength="68" lengthAdjust="spacingAndGlyphs" stroke="#000" stroke-width="0.18">RSI(14) 27.5303</text>
<text x="1423.5" y="681" font-size="9.8" fill="#000" textLength="14.5" lengthAdjust="spacingAndGlyphs" stroke="#000" stroke-width="0.18">100</text>
<text x="1422.3" y="714" font-size="9.8" fill="#000" textLength="10" lengthAdjust="spacingAndGlyphs" stroke="#000" stroke-width="0.18">70</text>
<text x="1422.3" y="765" font-size="9.8" fill="#000" textLength="10" lengthAdjust="spacingAndGlyphs" stroke="#000" stroke-width="0.18">30</text>
<text x="1423.5" y="797" font-size="9.8" fill="#000" stroke="#000" stroke-width="0.18">0</text>
<text x="3" y="813" font-size="9.6" fill="#000" stroke="#000" stroke-width="0.18">25 Feb 2019</text>
<text x="67" y="813" font-size="9.6" fill="#000" stroke="#000" stroke-width="0.18">6 Mar 2019</text>
<text x="131" y="813" font-size="9.6" fill="#000" stroke="#000" stroke-width="0.18">15 Mar 2019</text>
<text x="195" y="813" font-size="9.6" fill="#000" stroke="#000" stroke-width="0.18">25 Mar 2019</text>
<text x="259" y="813" font-size="9.6" fill="#000" stroke="#000" stroke-width="0.18">3 Apr 2019</text>
<text x="323" y="813" font-size="9.6" fill="#000" stroke="#000" stroke-width="0.18">12 Apr 2019</text>
<text x="387" y="813" font-size="9.6" fill="#000" stroke="#000" stroke-width="0.18">23 Apr 2019</text>
<text x="451" y="813" font-size="9.6" fill="#000" stroke="#000" stroke-width="0.18">2 May 2019</text>
<text x="515" y="813" font-size="9.6" fill="#000" stroke="#000" stroke-width="0.18">12 May 2019</text>
<text x="579" y="813" font-size="9.6" fill="#000" stroke="#000" stroke-width="0.18">21 May 2019</text>
<text x="643" y="813" font-size="9.6" fill="#000" stroke="#000" stroke-width="0.18">30 May 2019</text>
<text x="707" y="813" font-size="9.6" fill="#000" stroke="#000" stroke-width="0.18">9 Jun 2019</text>
<text x="771" y="813" font-size="9.6" fill="#000" stroke="#000" stroke-width="0.18">18 Jun 2019</text>
<text x="835" y="813" font-size="9.6" fill="#000" stroke="#000" stroke-width="0.18">27 Jun 2019</text>
<text x="899" y="813" font-size="9.6" fill="#000" stroke="#000" stroke-width="0.18">7 Jul 2019</text>
<text x="963" y="813" font-size="9.6" fill="#000" stroke="#000" stroke-width="0.18">16 Jul 2019</text>
<text x="1027" y="813" font-size="9.6" fill="#000" stroke="#000" stroke-width="0.18">25 Jul 2019</text>
<text x="1091" y="813" font-size="9.6" fill="#000" stroke="#000" stroke-width="0.18">4 Aug 2019</text>
<g shape-rendering="crispEdges">
<rect x="7" y="44" width="219" height="64" fill="#fff"/>
<rect x="7" y="44" width="52" height="24" fill="url(#gs)"/>
<rect x="174" y="44" width="52" height="24" fill="url(#gs)"/>
<rect x="7" y="68" width="109" height="40" fill="url(#gl)"/>
<rect x="118" y="68" width="108" height="40" fill="url(#gl)"/>
<rect x="11" y="67" width="44" height="1" fill="#8c0000"/>
<rect x="178" y="67" width="44" height="1" fill="#8c0000"/>
<rect x="11" y="68" width="44" height="1" fill="#f06060"/>
<rect x="178" y="68" width="44" height="1" fill="#f06060"/>
<rect x="7" y="44" width="52" height="1" fill="#b40000"/>
<rect x="7" y="44" width="1" height="64" fill="#b40000"/>
<rect x="58" y="44" width="1" height="25" fill="#b40000"/>
<rect x="58" y="68" width="58" height="1" fill="#b40000"/>
<rect x="115" y="68" width="1" height="40" fill="#b40000"/>
<rect x="7" y="107" width="109" height="1" fill="#a00000"/>
<rect x="174" y="44" width="52" height="1" fill="#b40000"/>
<rect x="225" y="44" width="1" height="64" fill="#b40000"/>
<rect x="174" y="44" width="1" height="25" fill="#b40000"/>
<rect x="118" y="68" width="57" height="1" fill="#b40000"/>
<rect x="118" y="68" width="1" height="40" fill="#b40000"/>
<rect x="118" y="107" width="108" height="1" fill="#a00000"/>
<rect x="8" y="45" width="50" height="1" fill="#fa6262"/>
<rect x="175" y="45" width="50" height="1" fill="#fa6262"/>
<rect x="61" y="44" width="111" height="22" fill="#a9acb4"/>
<rect x="62" y="45" width="109" height="20" fill="#fff"/>
<rect x="63" y="46" width="18" height="18" fill="url(#gb)"/>
<rect x="152" y="46" width="18" height="18" fill="url(#gb)"/>
<rect x="82" y="45" width="1" height="20" fill="#a9acb4"/>
<rect x="150" y="45" width="1" height="20" fill="#a9acb4"/>
</g>
<polygon points="69,53 74.5,53 71.75,56.5" fill="#4a64c0"/><polygon points="157.5,56.5 163,56.5 160.25,53" fill="#4a64c0"/>
<text x="19.3" y="60" font-size="12.5" fill="#fff" textLength="25.5" lengthAdjust="spacingAndGlyphs">SELL</text>
<text x="187.7" y="60" font-size="12.5" fill="#fff" textLength="23.3" lengthAdjust="spacingAndGlyphs">BUY</text>
<text x="147" y="58.8" font-size="12" fill="#000" textLength="23.5" lengthAdjust="spacingAndGlyphs" text-anchor="end">1.00</text>
<text x="27" y="98.7" font-size="11" fill="#fff" textLength="23.5" lengthAdjust="spacingAndGlyphs" font-weight="bold">0.67</text>
<text x="137" y="98.7" font-size="11" fill="#fff" textLength="23.5" lengthAdjust="spacingAndGlyphs" font-weight="bold">0.67</text>
<text x="54.8" y="98.8" font-size="34.6" fill="#fff" textLength="34.2" lengthAdjust="spacingAndGlyphs" stroke="url(#gl2)" stroke-width="0.45">77</text>
<text x="165.1" y="98.8" font-size="34.6" fill="#fff" textLength="34.4" lengthAdjust="spacingAndGlyphs" stroke="url(#gl2)" stroke-width="0.45">79</text>
<text x="94.7" y="82.7" font-size="10.5" fill="#fff" font-weight="bold">1</text>
<text x="205.4" y="82.7" font-size="10.5" fill="#fff" font-weight="bold">3</text>
<g shape-rendering="crispEdges">
<rect x="0" y="820" width="1467" height="2" fill="#e8e8e8"/>
<rect x="0" y="823" width="1467" height="22" fill="#f0f0f0"/>
<rect x="0" y="823" width="1467" height="1" fill="#000"/>
<rect x="0" y="823" width="1" height="19" fill="#000"/>
<rect x="113" y="823" width="108" height="19" fill="#fff"/>
<rect x="113" y="823" width="1" height="19" fill="#000"/>
<rect x="220" y="823" width="1" height="19" fill="#000"/>
<rect x="113" y="841" width="108" height="1" fill="#000"/>
<rect x="329" y="827" width="1" height="13" fill="#808080"/>
<rect x="437" y="827" width="1" height="13" fill="#808080"/>
<rect x="550" y="827" width="1" height="13" fill="#808080"/>
<rect x="669" y="827" width="1" height="13" fill="#808080"/>
<rect x="793" y="827" width="1" height="13" fill="#808080"/>
<rect x="888" y="827" width="1" height="13" fill="#808080"/>
<rect x="968" y="827" width="1" height="13" fill="#808080"/>
<rect x="1073" y="827" width="1" height="13" fill="#808080"/>
</g>
<text x="16.4" y="838" font-size="12.3" fill="#606060" textLength="84.2" lengthAdjust="spacingAndGlyphs">EURUSD-,Daily</text>
<text x="123.5" y="838" font-size="12.3" fill="#000" textLength="86.5" lengthAdjust="spacingAndGlyphs">AUDUSD-,Daily</text>
<text x="233.5" y="838" font-size="12.3" fill="#606060" textLength="83.5" lengthAdjust="spacingAndGlyphs">USDCHF-,Daily</text>
<text x="340" y="838" font-size="12.3" fill="#606060" textLength="86" lengthAdjust="spacingAndGlyphs">USDCAD-,Daily</text>
<text x="449" y="838" font-size="12.3" fill="#606060" textLength="88" lengthAdjust="spacingAndGlyphs">USDCNH-,Daily</text>
<text x="560.3" y="838" font-size="12.3" fill="#606060" textLength="96.5" lengthAdjust="spacingAndGlyphs">EURCHF-,Weekly</text>
<text x="680.6" y="838" font-size="12.3" fill="#606060" textLength="100.6" lengthAdjust="spacingAndGlyphs">XAUUSD-,Weekly</text>
<text x="804.4" y="838" font-size="12.3" fill="#606060" textLength="72.2" lengthAdjust="spacingAndGlyphs">GBPUSD-,H1</text>
<text x="899.8" y="838" font-size="12.3" fill="#606060" textLength="56.2" lengthAdjust="spacingAndGlyphs">UKOil-,H1</text>
<text x="979" y="838" font-size="12.3" fill="#606060" textLength="82.8" lengthAdjust="spacingAndGlyphs">USDX-,Weekly</text>
<polygon points="1438.5,828.5 1438.5,835.5 1435,832" fill="#8c8c8c"/><polygon points="1454,828.5 1454,835.5 1457.5,832" fill="#8c8c8c"/>
<g shape-rendering="crispEdges">
<rect x="0" y="842" width="1467" height="3" fill="#f6f6f6"/>
<rect x="1459" y="824" width="6" height="21" fill="url(#gr2)"/>
<rect x="1465" y="823" width="1" height="22" fill="#cccccc"/>
<rect x="1466" y="823" width="1" height="22" fill="#a6a6a6"/>
</g>
</svg>
</body></html>
